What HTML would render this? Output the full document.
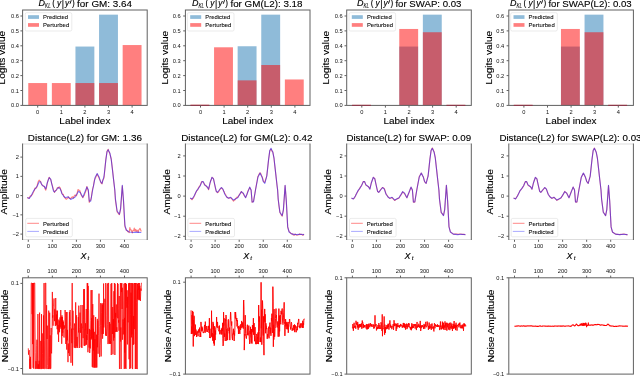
<!DOCTYPE html>
<html><head><meta charset="utf-8"><style>
html,body{margin:0;padding:0;background:#fff;overflow:hidden}
svg{display:block;font-family:"Liberation Sans", sans-serif;will-change:transform}
</style></head><body>
<svg width="640" height="376" viewBox="0 0 640 376">
<rect width="640" height="376" fill="#fff"/>
<g>
<rect x="28.26" y="83.05" width="18.88" height="22.35" fill="#ff0000" fill-opacity="0.5"/>
<rect x="51.86" y="83.05" width="18.88" height="22.35" fill="#ff0000" fill-opacity="0.5"/>
<rect x="75.46" y="46.55" width="18.88" height="58.86" fill="#1f77b4" fill-opacity="0.5"/>
<rect x="75.46" y="83.05" width="18.88" height="22.35" fill="#ff0000" fill-opacity="0.5"/>
<rect x="99.06" y="14.66" width="18.88" height="90.74" fill="#1f77b4" fill-opacity="0.5"/>
<rect x="99.06" y="83.05" width="18.88" height="22.35" fill="#ff0000" fill-opacity="0.5"/>
<rect x="122.66" y="45.05" width="18.88" height="60.35" fill="#ff0000" fill-opacity="0.5"/>
<rect x="22.60" y="10.00" width="124.60" height="95.40" fill="none" stroke="#606060" stroke-width="1"/>
<line x1="20.40" y1="105.40" x2="22.60" y2="105.40" stroke="#606060" stroke-width="1.0"/>
<text x="19.00" y="107.40" font-size="5.7" text-anchor="end" fill="#111" >0.0</text>
<line x1="20.40" y1="90.50" x2="22.60" y2="90.50" stroke="#606060" stroke-width="1.0"/>
<text x="19.00" y="92.50" font-size="5.7" text-anchor="end" fill="#111" >0.1</text>
<line x1="20.40" y1="75.60" x2="22.60" y2="75.60" stroke="#606060" stroke-width="1.0"/>
<text x="19.00" y="77.60" font-size="5.7" text-anchor="end" fill="#111" >0.2</text>
<line x1="20.40" y1="60.70" x2="22.60" y2="60.70" stroke="#606060" stroke-width="1.0"/>
<text x="19.00" y="62.70" font-size="5.7" text-anchor="end" fill="#111" >0.3</text>
<line x1="20.40" y1="45.80" x2="22.60" y2="45.80" stroke="#606060" stroke-width="1.0"/>
<text x="19.00" y="47.80" font-size="5.7" text-anchor="end" fill="#111" >0.4</text>
<line x1="20.40" y1="30.90" x2="22.60" y2="30.90" stroke="#606060" stroke-width="1.0"/>
<text x="19.00" y="32.90" font-size="5.7" text-anchor="end" fill="#111" >0.5</text>
<line x1="20.40" y1="16.00" x2="22.60" y2="16.00" stroke="#606060" stroke-width="1.0"/>
<text x="19.00" y="18.00" font-size="5.7" text-anchor="end" fill="#111" >0.6</text>
<line x1="37.70" y1="105.40" x2="37.70" y2="107.60" stroke="#606060" stroke-width="1.0"/>
<text x="37.70" y="113.80" font-size="5.7" text-anchor="middle" fill="#111" >0</text>
<line x1="61.30" y1="105.40" x2="61.30" y2="107.60" stroke="#606060" stroke-width="1.0"/>
<text x="61.30" y="113.80" font-size="5.7" text-anchor="middle" fill="#111" >1</text>
<line x1="84.90" y1="105.40" x2="84.90" y2="107.60" stroke="#606060" stroke-width="1.0"/>
<text x="84.90" y="113.80" font-size="5.7" text-anchor="middle" fill="#111" >2</text>
<line x1="108.50" y1="105.40" x2="108.50" y2="107.60" stroke="#606060" stroke-width="1.0"/>
<text x="108.50" y="113.80" font-size="5.7" text-anchor="middle" fill="#111" >3</text>
<line x1="132.10" y1="105.40" x2="132.10" y2="107.60" stroke="#606060" stroke-width="1.0"/>
<text x="132.10" y="113.80" font-size="5.7" text-anchor="middle" fill="#111" >4</text>
<text stroke="#000" stroke-width="0.12" x="84.90" y="124.00" font-size="8.7" text-anchor="middle" fill="#000" textLength="51.04" lengthAdjust="spacingAndGlyphs" >Label index</text>
<text stroke="#000" stroke-width="0.12" x="38.62" y="6.4" font-size="8.7" font-style="italic" textLength="6.5" lengthAdjust="spacingAndGlyphs">D</text>
<text stroke="#000" stroke-width="0.08" x="45.12" y="8.4" font-size="6.96" font-style="italic" textLength="5.6" lengthAdjust="spacingAndGlyphs">KL</text>
<text stroke="#000" stroke-width="0.12" x="52.22" y="5.6" font-size="8.26">(</text>
<text stroke="#000" stroke-width="0.12" x="57.02" y="5.9" font-size="8.26" font-style="italic">y</text>
<text stroke="#000" stroke-width="0.12" x="61.72" y="6.9" font-size="8.7">|</text>
<text stroke="#000" stroke-width="0.12" x="65.02" y="5.9" font-size="8.26" font-style="italic">y</text>
<line x1="71.12" y1="0.6" x2="70.12" y2="3.4" stroke="#111" stroke-width="1.0" stroke-linecap="round"/>
<text stroke="#000" stroke-width="0.12" x="72.02" y="5.6" font-size="8.26">)</text>
<text stroke="#000" stroke-width="0.12" x="74.38" y="6.60" font-size="8.7" text-anchor="start" fill="#000" textLength="57.61" lengthAdjust="spacingAndGlyphs" xml:space="preserve"> for GM: 3.64</text>
<text stroke="#000" stroke-width="0.12" transform="translate(5.30,57.70) rotate(-90)" font-size="8.7" text-anchor="middle" textLength="53.43" lengthAdjust="spacingAndGlyphs">Logits value</text>
<rect x="25.20" y="12.7" width="46.6" height="18.3" rx="1.5" fill="#fff" fill-opacity="0.8" stroke="#ddd" stroke-width="0.6"/>
<rect x="28.00" y="15.2" width="11" height="3.7" fill="#1f77b4" fill-opacity="0.5"/>
<rect x="28.00" y="23.1" width="11" height="3.7" fill="#ff0000" fill-opacity="0.5"/>
<text stroke="#000" stroke-width="0.08" x="43.10" y="19.40" font-size="6.1" text-anchor="start" fill="#111" textLength="24.97" lengthAdjust="spacingAndGlyphs" >Predicted</text>
<text stroke="#000" stroke-width="0.08" x="43.10" y="27.30" font-size="6.1" text-anchor="start" fill="#111" textLength="26.12" lengthAdjust="spacingAndGlyphs" >Perturbed</text>
</g>
<g>
<rect x="190.46" y="104.66" width="18.88" height="0.74" fill="#ff0000" fill-opacity="0.5"/>
<rect x="214.06" y="47.29" width="18.88" height="58.11" fill="#ff0000" fill-opacity="0.5"/>
<rect x="237.66" y="46.25" width="18.88" height="59.15" fill="#1f77b4" fill-opacity="0.5"/>
<rect x="237.66" y="80.37" width="18.88" height="25.03" fill="#ff0000" fill-opacity="0.5"/>
<rect x="261.26" y="14.66" width="18.88" height="90.74" fill="#1f77b4" fill-opacity="0.5"/>
<rect x="261.26" y="65.02" width="18.88" height="40.38" fill="#ff0000" fill-opacity="0.5"/>
<rect x="284.86" y="79.47" width="18.88" height="25.93" fill="#ff0000" fill-opacity="0.5"/>
<rect x="185.40" y="10.00" width="124.60" height="95.40" fill="none" stroke="#606060" stroke-width="1"/>
<rect x="190.46" y="104.9" width="18.88" height="1.1" fill="#8c3a4c"/>
<line x1="183.20" y1="105.40" x2="185.40" y2="105.40" stroke="#606060" stroke-width="1.0"/>
<text x="180.60" y="107.40" font-size="5.7" text-anchor="end" fill="#111" >0.0</text>
<line x1="183.20" y1="90.50" x2="185.40" y2="90.50" stroke="#606060" stroke-width="1.0"/>
<text x="180.60" y="92.50" font-size="5.7" text-anchor="end" fill="#111" >0.1</text>
<line x1="183.20" y1="75.60" x2="185.40" y2="75.60" stroke="#606060" stroke-width="1.0"/>
<text x="180.60" y="77.60" font-size="5.7" text-anchor="end" fill="#111" >0.2</text>
<line x1="183.20" y1="60.70" x2="185.40" y2="60.70" stroke="#606060" stroke-width="1.0"/>
<text x="180.60" y="62.70" font-size="5.7" text-anchor="end" fill="#111" >0.3</text>
<line x1="183.20" y1="45.80" x2="185.40" y2="45.80" stroke="#606060" stroke-width="1.0"/>
<text x="180.60" y="47.80" font-size="5.7" text-anchor="end" fill="#111" >0.4</text>
<line x1="183.20" y1="30.90" x2="185.40" y2="30.90" stroke="#606060" stroke-width="1.0"/>
<text x="180.60" y="32.90" font-size="5.7" text-anchor="end" fill="#111" >0.5</text>
<line x1="183.20" y1="16.00" x2="185.40" y2="16.00" stroke="#606060" stroke-width="1.0"/>
<text x="180.60" y="18.00" font-size="5.7" text-anchor="end" fill="#111" >0.6</text>
<line x1="200.50" y1="105.40" x2="200.50" y2="107.60" stroke="#606060" stroke-width="1.0"/>
<text x="200.50" y="113.80" font-size="5.7" text-anchor="middle" fill="#111" >0</text>
<line x1="224.10" y1="105.40" x2="224.10" y2="107.60" stroke="#606060" stroke-width="1.0"/>
<text x="224.10" y="113.80" font-size="5.7" text-anchor="middle" fill="#111" >1</text>
<line x1="247.70" y1="105.40" x2="247.70" y2="107.60" stroke="#606060" stroke-width="1.0"/>
<text x="247.70" y="113.80" font-size="5.7" text-anchor="middle" fill="#111" >2</text>
<line x1="271.30" y1="105.40" x2="271.30" y2="107.60" stroke="#606060" stroke-width="1.0"/>
<text x="271.30" y="113.80" font-size="5.7" text-anchor="middle" fill="#111" >3</text>
<line x1="294.90" y1="105.40" x2="294.90" y2="107.60" stroke="#606060" stroke-width="1.0"/>
<text x="294.90" y="113.80" font-size="5.7" text-anchor="middle" fill="#111" >4</text>
<text stroke="#000" stroke-width="0.12" x="247.70" y="124.00" font-size="8.7" text-anchor="middle" fill="#000" textLength="51.04" lengthAdjust="spacingAndGlyphs" >Label index</text>
<text stroke="#000" stroke-width="0.12" x="191.92" y="6.4" font-size="8.7" font-style="italic" textLength="6.5" lengthAdjust="spacingAndGlyphs">D</text>
<text stroke="#000" stroke-width="0.08" x="198.42" y="8.4" font-size="6.96" font-style="italic" textLength="5.6" lengthAdjust="spacingAndGlyphs">KL</text>
<text stroke="#000" stroke-width="0.12" x="205.52" y="5.6" font-size="8.26">(</text>
<text stroke="#000" stroke-width="0.12" x="210.32" y="5.9" font-size="8.26" font-style="italic">y</text>
<text stroke="#000" stroke-width="0.12" x="215.02" y="6.9" font-size="8.7">|</text>
<text stroke="#000" stroke-width="0.12" x="218.32" y="5.9" font-size="8.26" font-style="italic">y</text>
<line x1="224.42" y1="0.6" x2="223.42" y2="3.4" stroke="#111" stroke-width="1.0" stroke-linecap="round"/>
<text stroke="#000" stroke-width="0.12" x="225.32" y="5.6" font-size="8.26">)</text>
<text stroke="#000" stroke-width="0.12" x="227.68" y="6.60" font-size="8.7" text-anchor="start" fill="#000" textLength="74.90" lengthAdjust="spacingAndGlyphs" xml:space="preserve"> for GM(L2): 3.18</text>
<text stroke="#000" stroke-width="0.12" transform="translate(168.10,57.70) rotate(-90)" font-size="8.7" text-anchor="middle" textLength="53.43" lengthAdjust="spacingAndGlyphs">Logits value</text>
<rect x="187.40" y="12.7" width="46.6" height="18.3" rx="1.5" fill="#fff" fill-opacity="0.8" stroke="#ddd" stroke-width="0.6"/>
<rect x="190.20" y="15.2" width="11" height="3.7" fill="#1f77b4" fill-opacity="0.5"/>
<rect x="190.20" y="23.1" width="11" height="3.7" fill="#ff0000" fill-opacity="0.5"/>
<text stroke="#000" stroke-width="0.08" x="205.30" y="19.40" font-size="6.1" text-anchor="start" fill="#111" textLength="24.97" lengthAdjust="spacingAndGlyphs" >Predicted</text>
<text stroke="#000" stroke-width="0.08" x="205.30" y="27.30" font-size="6.1" text-anchor="start" fill="#111" textLength="26.12" lengthAdjust="spacingAndGlyphs" >Perturbed</text>
</g>
<g>
<rect x="352.06" y="104.80" width="18.88" height="0.60" fill="#ff0000" fill-opacity="0.5"/>
<rect x="399.26" y="46.55" width="18.88" height="58.86" fill="#1f77b4" fill-opacity="0.5"/>
<rect x="399.26" y="28.96" width="18.88" height="76.44" fill="#ff0000" fill-opacity="0.5"/>
<rect x="422.86" y="14.66" width="18.88" height="90.74" fill="#1f77b4" fill-opacity="0.5"/>
<rect x="422.86" y="32.24" width="18.88" height="73.16" fill="#ff0000" fill-opacity="0.5"/>
<rect x="446.46" y="104.80" width="18.88" height="0.60" fill="#ff0000" fill-opacity="0.5"/>
<rect x="346.70" y="10.00" width="124.60" height="95.40" fill="none" stroke="#606060" stroke-width="1"/>
<rect x="352.06" y="104.9" width="18.88" height="1.1" fill="#8c3a4c"/>
<rect x="446.46" y="104.9" width="18.88" height="1.1" fill="#8c3a4c"/>
<line x1="344.50" y1="105.40" x2="346.70" y2="105.40" stroke="#606060" stroke-width="1.0"/>
<text x="342.60" y="107.40" font-size="5.7" text-anchor="end" fill="#111" >0.0</text>
<line x1="344.50" y1="90.50" x2="346.70" y2="90.50" stroke="#606060" stroke-width="1.0"/>
<text x="342.60" y="92.50" font-size="5.7" text-anchor="end" fill="#111" >0.1</text>
<line x1="344.50" y1="75.60" x2="346.70" y2="75.60" stroke="#606060" stroke-width="1.0"/>
<text x="342.60" y="77.60" font-size="5.7" text-anchor="end" fill="#111" >0.2</text>
<line x1="344.50" y1="60.70" x2="346.70" y2="60.70" stroke="#606060" stroke-width="1.0"/>
<text x="342.60" y="62.70" font-size="5.7" text-anchor="end" fill="#111" >0.3</text>
<line x1="344.50" y1="45.80" x2="346.70" y2="45.80" stroke="#606060" stroke-width="1.0"/>
<text x="342.60" y="47.80" font-size="5.7" text-anchor="end" fill="#111" >0.4</text>
<line x1="344.50" y1="30.90" x2="346.70" y2="30.90" stroke="#606060" stroke-width="1.0"/>
<text x="342.60" y="32.90" font-size="5.7" text-anchor="end" fill="#111" >0.5</text>
<line x1="344.50" y1="16.00" x2="346.70" y2="16.00" stroke="#606060" stroke-width="1.0"/>
<text x="342.60" y="18.00" font-size="5.7" text-anchor="end" fill="#111" >0.6</text>
<line x1="361.80" y1="105.40" x2="361.80" y2="107.60" stroke="#606060" stroke-width="1.0"/>
<text x="361.80" y="113.80" font-size="5.7" text-anchor="middle" fill="#111" >0</text>
<line x1="385.40" y1="105.40" x2="385.40" y2="107.60" stroke="#606060" stroke-width="1.0"/>
<text x="385.40" y="113.80" font-size="5.7" text-anchor="middle" fill="#111" >1</text>
<line x1="409.00" y1="105.40" x2="409.00" y2="107.60" stroke="#606060" stroke-width="1.0"/>
<text x="409.00" y="113.80" font-size="5.7" text-anchor="middle" fill="#111" >2</text>
<line x1="432.60" y1="105.40" x2="432.60" y2="107.60" stroke="#606060" stroke-width="1.0"/>
<text x="432.60" y="113.80" font-size="5.7" text-anchor="middle" fill="#111" >3</text>
<line x1="456.20" y1="105.40" x2="456.20" y2="107.60" stroke="#606060" stroke-width="1.0"/>
<text x="456.20" y="113.80" font-size="5.7" text-anchor="middle" fill="#111" >4</text>
<text stroke="#000" stroke-width="0.12" x="409.00" y="124.00" font-size="8.7" text-anchor="middle" fill="#000" textLength="51.04" lengthAdjust="spacingAndGlyphs" >Label index</text>
<text stroke="#000" stroke-width="0.12" x="357.03" y="6.4" font-size="8.7" font-style="italic" textLength="6.5" lengthAdjust="spacingAndGlyphs">D</text>
<text stroke="#000" stroke-width="0.08" x="363.53" y="8.4" font-size="6.96" font-style="italic" textLength="5.6" lengthAdjust="spacingAndGlyphs">KL</text>
<text stroke="#000" stroke-width="0.12" x="370.63" y="5.6" font-size="8.26">(</text>
<text stroke="#000" stroke-width="0.12" x="375.43" y="5.9" font-size="8.26" font-style="italic">y</text>
<text stroke="#000" stroke-width="0.12" x="380.13" y="6.9" font-size="8.7">|</text>
<text stroke="#000" stroke-width="0.12" x="383.43" y="5.9" font-size="8.26" font-style="italic">y</text>
<line x1="389.53" y1="0.6" x2="388.53" y2="3.4" stroke="#111" stroke-width="1.0" stroke-linecap="round"/>
<text stroke="#000" stroke-width="0.12" x="390.43" y="5.6" font-size="8.26">)</text>
<text stroke="#000" stroke-width="0.12" x="392.79" y="6.60" font-size="8.7" text-anchor="start" fill="#000" textLength="68.59" lengthAdjust="spacingAndGlyphs" xml:space="preserve"> for SWAP: 0.03</text>
<text stroke="#000" stroke-width="0.12" transform="translate(329.40,57.70) rotate(-90)" font-size="8.7" text-anchor="middle" textLength="53.43" lengthAdjust="spacingAndGlyphs">Logits value</text>
<rect x="349.00" y="12.7" width="46.6" height="18.3" rx="1.5" fill="#fff" fill-opacity="0.8" stroke="#ddd" stroke-width="0.6"/>
<rect x="351.80" y="15.2" width="11" height="3.7" fill="#1f77b4" fill-opacity="0.5"/>
<rect x="351.80" y="23.1" width="11" height="3.7" fill="#ff0000" fill-opacity="0.5"/>
<text stroke="#000" stroke-width="0.08" x="366.90" y="19.40" font-size="6.1" text-anchor="start" fill="#111" textLength="24.97" lengthAdjust="spacingAndGlyphs" >Predicted</text>
<text stroke="#000" stroke-width="0.08" x="366.90" y="27.30" font-size="6.1" text-anchor="start" fill="#111" textLength="26.12" lengthAdjust="spacingAndGlyphs" >Perturbed</text>
</g>
<g>
<rect x="513.76" y="104.80" width="18.88" height="0.60" fill="#ff0000" fill-opacity="0.5"/>
<rect x="560.96" y="46.55" width="18.88" height="58.86" fill="#1f77b4" fill-opacity="0.5"/>
<rect x="560.96" y="28.96" width="18.88" height="76.44" fill="#ff0000" fill-opacity="0.5"/>
<rect x="584.56" y="14.66" width="18.88" height="90.74" fill="#1f77b4" fill-opacity="0.5"/>
<rect x="584.56" y="32.24" width="18.88" height="73.16" fill="#ff0000" fill-opacity="0.5"/>
<rect x="608.16" y="104.80" width="18.88" height="0.60" fill="#ff0000" fill-opacity="0.5"/>
<rect x="508.80" y="10.00" width="124.60" height="95.40" fill="none" stroke="#606060" stroke-width="1"/>
<rect x="513.76" y="104.9" width="18.88" height="1.1" fill="#8c3a4c"/>
<rect x="608.16" y="104.9" width="18.88" height="1.1" fill="#8c3a4c"/>
<line x1="506.60" y1="105.40" x2="508.80" y2="105.40" stroke="#606060" stroke-width="1.0"/>
<text x="504.20" y="107.40" font-size="5.7" text-anchor="end" fill="#111" >0.0</text>
<line x1="506.60" y1="90.50" x2="508.80" y2="90.50" stroke="#606060" stroke-width="1.0"/>
<text x="504.20" y="92.50" font-size="5.7" text-anchor="end" fill="#111" >0.1</text>
<line x1="506.60" y1="75.60" x2="508.80" y2="75.60" stroke="#606060" stroke-width="1.0"/>
<text x="504.20" y="77.60" font-size="5.7" text-anchor="end" fill="#111" >0.2</text>
<line x1="506.60" y1="60.70" x2="508.80" y2="60.70" stroke="#606060" stroke-width="1.0"/>
<text x="504.20" y="62.70" font-size="5.7" text-anchor="end" fill="#111" >0.3</text>
<line x1="506.60" y1="45.80" x2="508.80" y2="45.80" stroke="#606060" stroke-width="1.0"/>
<text x="504.20" y="47.80" font-size="5.7" text-anchor="end" fill="#111" >0.4</text>
<line x1="506.60" y1="30.90" x2="508.80" y2="30.90" stroke="#606060" stroke-width="1.0"/>
<text x="504.20" y="32.90" font-size="5.7" text-anchor="end" fill="#111" >0.5</text>
<line x1="506.60" y1="16.00" x2="508.80" y2="16.00" stroke="#606060" stroke-width="1.0"/>
<text x="504.20" y="18.00" font-size="5.7" text-anchor="end" fill="#111" >0.6</text>
<line x1="523.90" y1="105.40" x2="523.90" y2="107.60" stroke="#606060" stroke-width="1.0"/>
<text x="523.90" y="113.80" font-size="5.7" text-anchor="middle" fill="#111" >0</text>
<line x1="547.50" y1="105.40" x2="547.50" y2="107.60" stroke="#606060" stroke-width="1.0"/>
<text x="547.50" y="113.80" font-size="5.7" text-anchor="middle" fill="#111" >1</text>
<line x1="571.10" y1="105.40" x2="571.10" y2="107.60" stroke="#606060" stroke-width="1.0"/>
<text x="571.10" y="113.80" font-size="5.7" text-anchor="middle" fill="#111" >2</text>
<line x1="594.70" y1="105.40" x2="594.70" y2="107.60" stroke="#606060" stroke-width="1.0"/>
<text x="594.70" y="113.80" font-size="5.7" text-anchor="middle" fill="#111" >3</text>
<line x1="618.30" y1="105.40" x2="618.30" y2="107.60" stroke="#606060" stroke-width="1.0"/>
<text x="618.30" y="113.80" font-size="5.7" text-anchor="middle" fill="#111" >4</text>
<text stroke="#000" stroke-width="0.12" x="571.10" y="124.00" font-size="8.7" text-anchor="middle" fill="#000" textLength="51.04" lengthAdjust="spacingAndGlyphs" >Label index</text>
<text stroke="#000" stroke-width="0.12" x="510.01" y="6.4" font-size="8.7" font-style="italic" textLength="6.5" lengthAdjust="spacingAndGlyphs">D</text>
<text stroke="#000" stroke-width="0.08" x="516.51" y="8.4" font-size="6.96" font-style="italic" textLength="5.6" lengthAdjust="spacingAndGlyphs">KL</text>
<text stroke="#000" stroke-width="0.12" x="523.61" y="5.6" font-size="8.26">(</text>
<text stroke="#000" stroke-width="0.12" x="528.41" y="5.9" font-size="8.26" font-style="italic">y</text>
<text stroke="#000" stroke-width="0.12" x="533.11" y="6.9" font-size="8.7">|</text>
<text stroke="#000" stroke-width="0.12" x="536.41" y="5.9" font-size="8.26" font-style="italic">y</text>
<line x1="542.51" y1="0.6" x2="541.51" y2="3.4" stroke="#111" stroke-width="1.0" stroke-linecap="round"/>
<text stroke="#000" stroke-width="0.12" x="543.41" y="5.6" font-size="8.26">)</text>
<text stroke="#000" stroke-width="0.12" x="545.77" y="6.60" font-size="8.7" text-anchor="start" fill="#000" textLength="85.92" lengthAdjust="spacingAndGlyphs" xml:space="preserve"> for SWAP(L2): 0.03</text>
<text stroke="#000" stroke-width="0.12" transform="translate(491.50,57.70) rotate(-90)" font-size="8.7" text-anchor="middle" textLength="53.43" lengthAdjust="spacingAndGlyphs">Logits value</text>
<rect x="510.70" y="12.7" width="46.6" height="18.3" rx="1.5" fill="#fff" fill-opacity="0.8" stroke="#ddd" stroke-width="0.6"/>
<rect x="513.50" y="15.2" width="11" height="3.7" fill="#1f77b4" fill-opacity="0.5"/>
<rect x="513.50" y="23.1" width="11" height="3.7" fill="#ff0000" fill-opacity="0.5"/>
<text stroke="#000" stroke-width="0.08" x="528.60" y="19.40" font-size="6.1" text-anchor="start" fill="#111" textLength="24.97" lengthAdjust="spacingAndGlyphs" >Predicted</text>
<text stroke="#000" stroke-width="0.08" x="528.60" y="27.30" font-size="6.1" text-anchor="start" fill="#111" textLength="26.12" lengthAdjust="spacingAndGlyphs" >Perturbed</text>
</g>
<polyline points="27.40,197.30 28.03,198.10 28.67,198.08 29.30,198.11 29.97,196.48 30.63,195.72 31.30,195.99 31.90,194.93 32.50,194.32 33.10,192.81 33.70,191.53 34.30,190.59 34.90,188.17 35.50,188.55 36.13,188.03 36.77,187.35 37.40,184.75 38.00,182.34 38.60,181.07 39.20,180.13 39.85,181.02 40.50,181.26 41.15,183.46 41.80,184.43 42.60,185.40 43.40,186.26 44.40,186.24 45.10,188.97 45.80,190.10 46.50,187.70 47.20,183.57 47.87,180.92 48.53,178.94 49.20,177.22 49.95,178.62 50.70,179.42 51.80,183.87 52.65,186.67 53.50,190.13 54.60,192.40 55.23,190.81 55.87,190.45 56.50,190.09 57.17,187.91 57.83,187.57 58.50,188.11 59.35,186.88 60.20,187.88 60.80,189.82 61.40,191.05 62.00,193.53 62.63,194.47 63.27,194.22 63.90,196.35 64.75,197.58 65.60,198.80 66.37,199.25 67.13,198.49 67.90,197.70 68.60,196.90 69.30,198.30 70.00,198.37 70.70,198.82 71.40,197.63 72.10,197.03 72.80,196.88 73.50,198.18 74.20,196.02 74.90,195.06 75.52,195.14 76.13,195.80 76.75,195.08 77.37,192.16 77.98,189.50 78.60,189.92 79.20,190.33 79.80,190.44 80.40,192.47 81.20,195.00 82.00,196.32 82.80,197.79 83.48,196.22 84.17,195.57 84.85,193.68 85.53,191.78 86.22,189.98 86.90,186.44 87.60,189.07 88.30,190.91 89.30,202.45 90.00,200.31 90.70,200.15 91.37,197.47 92.03,192.10 92.70,188.71 93.50,185.93 94.30,180.68 95.10,178.37 95.80,177.18 96.50,175.34 97.20,174.10 97.90,175.78 98.60,176.87 99.30,178.93 99.90,179.85 100.50,181.42 101.25,183.23 102.00,183.82 102.67,180.59 103.33,179.27 104.00,177.99 104.90,169.00 105.80,159.62 106.40,155.53 107.00,151.34 108.20,149.28 108.80,151.92 109.40,151.96 110.00,154.40 111.20,158.75 112.40,168.56 113.60,179.83 114.80,190.67 115.40,199.84 116.25,205.84 117.10,211.77 117.87,212.68 118.63,214.02 119.40,214.63 120.60,208.97 121.45,197.69 122.30,185.80 122.90,193.69 123.50,201.22 124.20,214.95 124.90,226.75 125.60,228.17 126.30,230.05 127.02,230.51 127.75,231.78 128.48,231.68 129.20,232.67 129.83,227.45 130.46,230.00 131.09,229.81 131.71,231.28 132.34,232.93 132.97,230.41 133.60,230.66 134.26,228.02 134.92,231.29 135.58,229.33 136.24,231.48 136.90,230.07 137.53,230.68 138.16,232.50 138.79,229.97 139.41,229.11 140.04,228.32 140.67,230.10 141.30,231.49" fill="none" stroke="#ff0000" stroke-opacity="0.5" stroke-width="1.1" stroke-linejoin="round"/>
<polyline points="27.40,197.52 29.30,198.38 31.30,195.50 33.70,190.62 35.50,188.42 37.40,185.74 39.20,181.71 40.50,181.71 41.80,184.87 43.40,185.93 44.40,186.60 45.80,188.90 47.20,183.05 49.20,177.60 50.70,179.03 51.80,184.01 53.50,191.10 54.60,191.96 56.50,189.76 58.50,187.36 60.20,188.90 62.00,193.78 63.90,196.46 65.60,197.71 67.90,196.75 70.70,199.43 74.90,197.23 78.60,191.29 80.40,192.73 82.80,197.23 86.90,186.98 88.30,189.66 89.30,201.25 90.70,201.25 92.70,189.76 95.10,177.60 97.20,173.57 99.30,177.60 100.50,181.62 102.00,183.34 104.00,176.45 105.80,160.45 107.00,151.83 108.20,149.82 110.00,153.56 111.20,159.30 112.40,169.55 113.60,179.89 114.80,189.76 115.40,198.57 117.10,211.02 119.40,214.28 120.60,208.53 122.30,185.35 123.50,200.20 124.90,225.10 126.30,229.98 129.20,231.99 133.60,232.47 136.90,232.09 141.30,232.47" fill="none" stroke="#0000ff" stroke-opacity="0.5" stroke-width="1.1" stroke-linejoin="round"/>
<line x1="22.60" y1="144.00" x2="147.20" y2="144.00" stroke="#ddd" stroke-width="1.0"/>
<line x1="22.60" y1="239.50" x2="147.20" y2="239.50" stroke="#ddd" stroke-width="1.0"/>
<line x1="22.60" y1="143.50" x2="22.60" y2="240.00" stroke="#606060" stroke-width="1.0"/>
<line x1="147.20" y1="143.50" x2="147.20" y2="240.00" stroke="#606060" stroke-width="1.0"/>
<line x1="20.40" y1="234.10" x2="22.60" y2="234.10" stroke="#606060" stroke-width="1.0"/>
<text x="19.00" y="236.10" font-size="5.7" text-anchor="end" fill="#111" >−2</text>
<line x1="20.40" y1="214.85" x2="22.60" y2="214.85" stroke="#606060" stroke-width="1.0"/>
<text x="19.00" y="216.85" font-size="5.7" text-anchor="end" fill="#111" >−1</text>
<line x1="20.40" y1="195.60" x2="22.60" y2="195.60" stroke="#606060" stroke-width="1.0"/>
<text x="19.00" y="197.60" font-size="5.7" text-anchor="end" fill="#111" >0</text>
<line x1="20.40" y1="176.35" x2="22.60" y2="176.35" stroke="#606060" stroke-width="1.0"/>
<text x="19.00" y="178.35" font-size="5.7" text-anchor="end" fill="#111" >1</text>
<line x1="20.40" y1="157.10" x2="22.60" y2="157.10" stroke="#606060" stroke-width="1.0"/>
<text x="19.00" y="159.10" font-size="5.7" text-anchor="end" fill="#111" >2</text>
<line x1="28.30" y1="239.80" x2="28.30" y2="241.80" stroke="#606060" stroke-width="1.0"/>
<text x="28.30" y="248.00" font-size="5.7" text-anchor="middle" fill="#111" >0</text>
<line x1="52.35" y1="239.80" x2="52.35" y2="241.80" stroke="#606060" stroke-width="1.0"/>
<text x="52.35" y="248.00" font-size="5.7" text-anchor="middle" fill="#111" >100</text>
<line x1="76.40" y1="239.80" x2="76.40" y2="241.80" stroke="#606060" stroke-width="1.0"/>
<text x="76.40" y="248.00" font-size="5.7" text-anchor="middle" fill="#111" >200</text>
<line x1="100.45" y1="239.80" x2="100.45" y2="241.80" stroke="#606060" stroke-width="1.0"/>
<text x="100.45" y="248.00" font-size="5.7" text-anchor="middle" fill="#111" >300</text>
<line x1="124.50" y1="239.80" x2="124.50" y2="241.80" stroke="#606060" stroke-width="1.0"/>
<text x="124.50" y="248.00" font-size="5.7" text-anchor="middle" fill="#111" >400</text>
<text stroke="#000" stroke-width="0.12" x="83.40" y="258.8" font-size="9.0" font-style="italic" text-anchor="middle">X</text>
<text stroke="#000" stroke-width="0.08" x="88.40" y="260.0" font-size="6.09" font-style="italic" text-anchor="middle">t</text>
<text stroke="#000" stroke-width="0.12" x="84.90" y="140.70" font-size="8.7" text-anchor="middle" fill="#000" textLength="114.04" lengthAdjust="spacingAndGlyphs" >Distance(L2) for GM: 1.36</text>
<text stroke="#000" stroke-width="0.12" transform="translate(7.20,191.75) rotate(-90)" font-size="8.7" text-anchor="middle" textLength="45.46" lengthAdjust="spacingAndGlyphs">Amplitude</text>
<rect x="25.70" y="218.4" width="46.6" height="18.4" rx="1.5" fill="#fff" fill-opacity="0.8" stroke="#ddd" stroke-width="0.6"/>
<line x1="27.30" y1="223.30" x2="39.00" y2="223.30" stroke="#ff7a7a" stroke-width="0.9"/>
<line x1="27.30" y1="231.40" x2="39.00" y2="231.40" stroke="#a0a0ff" stroke-width="0.9"/>
<text stroke="#000" stroke-width="0.08" x="43.00" y="225.70" font-size="6.1" text-anchor="start" fill="#111" textLength="26.12" lengthAdjust="spacingAndGlyphs" >Perturbed</text>
<text stroke="#000" stroke-width="0.08" x="43.00" y="234.10" font-size="6.1" text-anchor="start" fill="#111" textLength="24.97" lengthAdjust="spacingAndGlyphs" >Predicted</text>
<polyline points="190.20,198.15 190.83,198.40 191.47,199.24 192.10,199.69 192.77,198.31 193.43,198.15 194.10,196.29 194.70,195.22 195.30,193.65 195.90,192.34 196.50,191.25 197.10,190.42 197.70,189.76 198.30,188.30 198.93,186.96 199.57,186.52 200.20,185.34 200.80,183.76 201.40,182.10 202.00,181.51 202.65,181.80 203.30,182.24 203.95,183.30 204.60,184.93 205.40,185.07 206.20,186.04 207.20,187.28 207.90,187.94 208.60,189.67 209.30,186.74 210.00,183.35 210.67,180.62 211.33,179.40 212.00,177.39 212.75,177.89 213.50,178.85 214.60,184.17 215.45,188.33 216.30,191.42 217.40,192.71 218.03,192.30 218.67,191.73 219.30,190.52 219.97,189.22 220.63,188.72 221.30,187.77 222.15,188.51 223.00,189.72 223.60,191.08 224.20,191.86 224.80,193.68 225.43,194.17 226.07,195.78 226.70,196.94 227.55,197.40 228.40,198.15 229.17,198.17 229.93,197.78 230.70,197.85 231.40,198.31 232.10,199.25 232.80,200.25 233.50,201.17 234.20,200.13 234.90,199.89 235.60,198.63 236.30,197.99 237.00,197.15 237.70,197.56 238.32,196.19 238.93,195.38 239.55,194.42 240.17,193.49 240.78,192.32 241.40,191.49 242.00,192.66 242.60,192.95 243.20,193.50 244.00,195.26 244.80,196.52 245.60,197.53 246.28,195.66 246.97,194.40 247.65,191.97 248.33,190.17 249.02,188.94 249.70,187.41 250.40,188.69 251.10,190.30 252.10,202.30 252.80,201.76 253.50,201.31 254.17,197.36 254.83,193.94 255.50,189.77 256.30,185.31 257.10,180.99 257.90,176.44 258.60,175.34 259.30,173.75 260.00,172.78 260.70,173.48 261.40,175.40 262.10,176.78 262.70,178.41 263.30,181.16 264.05,182.10 264.80,182.34 265.47,180.02 266.13,178.07 266.80,175.68 267.70,167.77 268.60,159.68 269.20,155.30 269.80,150.75 271.00,148.98 271.60,150.24 272.20,151.44 272.80,151.80 274.00,158.27 274.60,164.05 275.20,169.10 276.40,179.65 277.00,185.50 277.60,189.78 278.20,199.23 279.05,206.57 279.90,212.39 280.67,213.69 281.43,215.34 282.20,216.08 283.40,210.09 284.25,198.11 285.10,185.45 285.70,193.15 286.30,201.00 287.00,214.25 287.70,227.10 288.40,229.50 289.10,231.67 289.83,232.20 290.55,233.17 291.27,233.68 292.00,233.87 292.63,233.74 293.26,234.92 293.89,235.12 294.51,235.09 295.14,233.97 295.77,234.46 296.40,234.72 297.06,235.18 297.72,234.99 298.38,234.67 299.04,234.65 299.70,233.74 300.33,234.34 300.96,234.48 301.59,234.22 302.21,234.80 302.84,235.34 303.47,234.57 304.10,234.38" fill="none" stroke="#ff0000" stroke-opacity="0.5" stroke-width="1.1" stroke-linejoin="round"/>
<polyline points="190.20,198.10 192.10,199.00 194.10,196.00 196.50,190.90 198.30,188.60 200.20,185.80 202.00,181.60 203.30,181.60 204.60,184.90 206.20,186.00 207.20,186.70 208.60,189.10 210.00,183.00 212.00,177.30 213.50,178.80 214.60,184.00 216.30,191.40 217.40,192.30 219.30,190.00 221.30,187.50 223.00,189.10 224.80,194.20 226.70,197.00 228.40,198.30 230.70,197.30 233.50,200.10 237.70,197.80 241.40,191.60 243.20,193.10 245.60,197.80 249.70,187.10 251.10,189.90 252.10,202.00 253.50,202.00 255.50,190.00 257.90,177.30 260.00,173.10 262.10,177.30 263.30,181.50 264.80,183.30 266.80,176.10 268.60,159.40 269.80,150.40 271.00,148.30 272.80,152.20 274.00,158.20 275.20,168.90 276.40,179.70 277.60,190.00 278.20,199.20 279.90,212.20 282.20,215.60 283.40,209.60 285.10,185.40 286.30,200.90 287.70,226.90 289.10,232.00 292.00,234.10 296.40,234.60 299.70,234.20 304.10,234.60" fill="none" stroke="#0000ff" stroke-opacity="0.5" stroke-width="1.1" stroke-linejoin="round"/>
<line x1="185.40" y1="144.00" x2="310.00" y2="144.00" stroke="#ddd" stroke-width="1.0"/>
<line x1="185.40" y1="239.50" x2="310.00" y2="239.50" stroke="#ddd" stroke-width="1.0"/>
<line x1="185.40" y1="143.50" x2="185.40" y2="240.00" stroke="#606060" stroke-width="1.0"/>
<line x1="310.00" y1="143.50" x2="310.00" y2="240.00" stroke="#606060" stroke-width="1.0"/>
<line x1="183.20" y1="236.30" x2="185.40" y2="236.30" stroke="#606060" stroke-width="1.0"/>
<text x="180.60" y="238.30" font-size="5.7" text-anchor="end" fill="#111" >−2</text>
<line x1="183.20" y1="216.20" x2="185.40" y2="216.20" stroke="#606060" stroke-width="1.0"/>
<text x="180.60" y="218.20" font-size="5.7" text-anchor="end" fill="#111" >−1</text>
<line x1="183.20" y1="196.10" x2="185.40" y2="196.10" stroke="#606060" stroke-width="1.0"/>
<text x="180.60" y="198.10" font-size="5.7" text-anchor="end" fill="#111" >0</text>
<line x1="183.20" y1="176.00" x2="185.40" y2="176.00" stroke="#606060" stroke-width="1.0"/>
<text x="180.60" y="178.00" font-size="5.7" text-anchor="end" fill="#111" >1</text>
<line x1="183.20" y1="155.90" x2="185.40" y2="155.90" stroke="#606060" stroke-width="1.0"/>
<text x="180.60" y="157.90" font-size="5.7" text-anchor="end" fill="#111" >2</text>
<line x1="191.10" y1="239.80" x2="191.10" y2="241.80" stroke="#606060" stroke-width="1.0"/>
<text x="191.10" y="248.00" font-size="5.7" text-anchor="middle" fill="#111" >0</text>
<line x1="215.15" y1="239.80" x2="215.15" y2="241.80" stroke="#606060" stroke-width="1.0"/>
<text x="215.15" y="248.00" font-size="5.7" text-anchor="middle" fill="#111" >100</text>
<line x1="239.20" y1="239.80" x2="239.20" y2="241.80" stroke="#606060" stroke-width="1.0"/>
<text x="239.20" y="248.00" font-size="5.7" text-anchor="middle" fill="#111" >200</text>
<line x1="263.25" y1="239.80" x2="263.25" y2="241.80" stroke="#606060" stroke-width="1.0"/>
<text x="263.25" y="248.00" font-size="5.7" text-anchor="middle" fill="#111" >300</text>
<line x1="287.30" y1="239.80" x2="287.30" y2="241.80" stroke="#606060" stroke-width="1.0"/>
<text x="287.30" y="248.00" font-size="5.7" text-anchor="middle" fill="#111" >400</text>
<text stroke="#000" stroke-width="0.12" x="246.20" y="258.8" font-size="9.0" font-style="italic" text-anchor="middle">X</text>
<text stroke="#000" stroke-width="0.08" x="251.20" y="260.0" font-size="6.09" font-style="italic" text-anchor="middle">t</text>
<text stroke="#000" stroke-width="0.12" x="246.85" y="140.70" font-size="8.7" text-anchor="middle" fill="#000" textLength="131.35" lengthAdjust="spacingAndGlyphs" >Distance(L2) for GM(L2): 0.42</text>
<text stroke="#000" stroke-width="0.12" transform="translate(170.00,191.75) rotate(-90)" font-size="8.7" text-anchor="middle" textLength="45.46" lengthAdjust="spacingAndGlyphs">Amplitude</text>
<rect x="187.90" y="218.4" width="46.6" height="18.4" rx="1.5" fill="#fff" fill-opacity="0.8" stroke="#ddd" stroke-width="0.6"/>
<line x1="189.50" y1="223.30" x2="201.20" y2="223.30" stroke="#ff7a7a" stroke-width="0.9"/>
<line x1="189.50" y1="231.40" x2="201.20" y2="231.40" stroke="#a0a0ff" stroke-width="0.9"/>
<text stroke="#000" stroke-width="0.08" x="205.20" y="225.70" font-size="6.1" text-anchor="start" fill="#111" textLength="26.12" lengthAdjust="spacingAndGlyphs" >Perturbed</text>
<text stroke="#000" stroke-width="0.08" x="205.20" y="234.10" font-size="6.1" text-anchor="start" fill="#111" textLength="24.97" lengthAdjust="spacingAndGlyphs" >Predicted</text>
<polyline points="351.50,198.15 352.13,198.46 352.77,198.67 353.40,198.81 354.07,198.26 354.73,197.34 355.40,195.99 356.00,194.49 356.60,193.60 357.20,192.44 357.80,191.38 358.40,190.56 359.00,189.47 359.60,188.71 360.23,187.35 360.87,186.41 361.50,185.60 362.10,184.37 362.70,182.86 363.30,181.49 363.95,181.62 364.60,181.67 365.25,183.41 365.90,185.03 366.70,185.47 367.50,186.15 368.50,186.80 369.20,187.82 369.90,188.94 370.60,185.95 371.30,182.92 371.97,181.08 372.63,179.19 373.30,177.32 374.05,178.04 374.80,178.57 375.90,183.94 376.75,187.85 377.60,191.56 378.70,192.37 379.33,191.65 379.97,190.67 380.60,189.61 381.27,188.94 381.93,188.04 382.60,187.45 383.45,188.08 384.30,188.51 384.90,190.26 385.50,192.45 386.10,194.11 386.73,194.84 387.37,195.76 388.00,196.90 388.85,197.68 389.70,198.35 390.47,198.26 391.23,197.93 392.00,197.47 392.70,198.21 393.40,199.12 394.10,199.82 394.80,200.53 395.50,199.79 396.20,199.35 396.90,199.09 397.60,198.60 398.30,198.39 399.00,198.03 399.62,197.06 400.23,195.87 400.85,195.23 401.47,194.20 402.08,192.92 402.70,191.79 403.30,192.67 403.90,192.88 404.50,193.42 405.30,195.03 406.10,196.45 406.90,197.73 407.58,196.01 408.27,194.29 408.95,192.68 409.63,190.94 410.32,189.05 411.00,187.35 411.70,188.75 412.40,190.08 413.40,202.12 414.10,202.03 414.80,202.14 415.47,197.90 416.13,193.83 416.80,189.90 417.60,185.45 418.40,181.27 419.20,176.79 419.90,175.47 420.60,174.34 421.30,173.11 422.00,174.49 422.70,175.86 423.40,177.03 424.00,179.56 424.60,181.68 425.35,182.70 426.10,183.33 426.77,180.88 427.43,178.17 428.10,176.04 429.00,167.88 429.90,159.14 430.50,154.74 431.10,150.41 432.30,148.00 432.90,149.10 433.50,150.41 434.10,151.80 435.30,157.71 436.50,168.61 437.70,179.57 438.90,190.03 439.50,199.34 440.35,206.05 441.20,212.61 441.97,213.35 442.73,214.39 443.50,215.37 444.70,209.27 445.55,197.29 446.40,185.27 447.00,193.16 447.60,200.63 448.30,213.52 449.00,226.67 449.70,229.28 450.40,231.84 451.12,232.42 451.85,232.85 452.57,233.58 453.30,234.16 453.93,234.19 454.56,234.14 455.19,234.22 455.81,233.85 456.44,233.97 457.07,234.24 457.70,234.16 458.36,234.29 459.02,234.33 459.68,234.05 460.34,234.05 461.00,234.01 461.63,234.22 462.26,234.40 462.89,234.42 463.51,234.31 464.14,234.39 464.77,234.47 465.40,234.69" fill="none" stroke="#ff0000" stroke-opacity="0.5" stroke-width="1.1" stroke-linejoin="round"/>
<polyline points="351.50,198.10 353.40,199.00 355.40,196.00 357.80,190.90 359.60,188.60 361.50,185.80 363.30,181.60 364.60,181.60 365.90,184.90 367.50,186.00 368.50,186.70 369.90,189.10 371.30,183.00 373.30,177.30 374.80,178.80 375.90,184.00 377.60,191.40 378.70,192.30 380.60,190.00 382.60,187.50 384.30,189.10 386.10,194.20 388.00,197.00 389.70,198.30 392.00,197.30 394.80,200.10 399.00,197.80 402.70,191.60 404.50,193.10 406.90,197.80 411.00,187.10 412.40,189.90 413.40,202.00 414.80,202.00 416.80,190.00 419.20,177.30 421.30,173.10 423.40,177.30 424.60,181.50 426.10,183.30 428.10,176.10 429.90,159.40 431.10,150.40 432.30,148.30 434.10,152.20 435.30,158.20 436.50,168.90 437.70,179.70 438.90,190.00 439.50,199.20 441.20,212.20 443.50,215.60 444.70,209.60 446.40,185.40 447.60,200.90 449.00,226.90 450.40,232.00 453.30,234.10 457.70,234.60 461.00,234.20 465.40,234.60" fill="none" stroke="#0000ff" stroke-opacity="0.5" stroke-width="1.1" stroke-linejoin="round"/>
<line x1="346.70" y1="144.00" x2="471.30" y2="144.00" stroke="#ddd" stroke-width="1.0"/>
<line x1="346.70" y1="239.50" x2="471.30" y2="239.50" stroke="#ddd" stroke-width="1.0"/>
<line x1="346.70" y1="143.50" x2="346.70" y2="240.00" stroke="#606060" stroke-width="1.0"/>
<line x1="471.30" y1="143.50" x2="471.30" y2="240.00" stroke="#606060" stroke-width="1.0"/>
<line x1="344.50" y1="236.30" x2="346.70" y2="236.30" stroke="#606060" stroke-width="1.0"/>
<text x="342.60" y="238.30" font-size="5.7" text-anchor="end" fill="#111" >−2</text>
<line x1="344.50" y1="216.20" x2="346.70" y2="216.20" stroke="#606060" stroke-width="1.0"/>
<text x="342.60" y="218.20" font-size="5.7" text-anchor="end" fill="#111" >−1</text>
<line x1="344.50" y1="196.10" x2="346.70" y2="196.10" stroke="#606060" stroke-width="1.0"/>
<text x="342.60" y="198.10" font-size="5.7" text-anchor="end" fill="#111" >0</text>
<line x1="344.50" y1="176.00" x2="346.70" y2="176.00" stroke="#606060" stroke-width="1.0"/>
<text x="342.60" y="178.00" font-size="5.7" text-anchor="end" fill="#111" >1</text>
<line x1="344.50" y1="155.90" x2="346.70" y2="155.90" stroke="#606060" stroke-width="1.0"/>
<text x="342.60" y="157.90" font-size="5.7" text-anchor="end" fill="#111" >2</text>
<line x1="352.40" y1="239.80" x2="352.40" y2="241.80" stroke="#606060" stroke-width="1.0"/>
<text x="352.40" y="248.00" font-size="5.7" text-anchor="middle" fill="#111" >0</text>
<line x1="376.45" y1="239.80" x2="376.45" y2="241.80" stroke="#606060" stroke-width="1.0"/>
<text x="376.45" y="248.00" font-size="5.7" text-anchor="middle" fill="#111" >100</text>
<line x1="400.50" y1="239.80" x2="400.50" y2="241.80" stroke="#606060" stroke-width="1.0"/>
<text x="400.50" y="248.00" font-size="5.7" text-anchor="middle" fill="#111" >200</text>
<line x1="424.55" y1="239.80" x2="424.55" y2="241.80" stroke="#606060" stroke-width="1.0"/>
<text x="424.55" y="248.00" font-size="5.7" text-anchor="middle" fill="#111" >300</text>
<line x1="448.60" y1="239.80" x2="448.60" y2="241.80" stroke="#606060" stroke-width="1.0"/>
<text x="448.60" y="248.00" font-size="5.7" text-anchor="middle" fill="#111" >400</text>
<text stroke="#000" stroke-width="0.12" x="407.50" y="258.8" font-size="9.0" font-style="italic" text-anchor="middle">X</text>
<text stroke="#000" stroke-width="0.08" x="412.50" y="260.0" font-size="6.09" font-style="italic" text-anchor="middle">t</text>
<text stroke="#000" stroke-width="0.12" x="408.80" y="140.70" font-size="8.7" text-anchor="middle" fill="#000" textLength="124.73" lengthAdjust="spacingAndGlyphs" >Distance(L2) for SWAP: 0.09</text>
<text stroke="#000" stroke-width="0.12" transform="translate(331.30,191.75) rotate(-90)" font-size="8.7" text-anchor="middle" textLength="45.46" lengthAdjust="spacingAndGlyphs">Amplitude</text>
<rect x="349.50" y="218.4" width="46.6" height="18.4" rx="1.5" fill="#fff" fill-opacity="0.8" stroke="#ddd" stroke-width="0.6"/>
<line x1="351.10" y1="223.30" x2="362.80" y2="223.30" stroke="#ff7a7a" stroke-width="0.9"/>
<line x1="351.10" y1="231.40" x2="362.80" y2="231.40" stroke="#a0a0ff" stroke-width="0.9"/>
<text stroke="#000" stroke-width="0.08" x="366.80" y="225.70" font-size="6.1" text-anchor="start" fill="#111" textLength="26.12" lengthAdjust="spacingAndGlyphs" >Perturbed</text>
<text stroke="#000" stroke-width="0.08" x="366.80" y="234.10" font-size="6.1" text-anchor="start" fill="#111" textLength="24.97" lengthAdjust="spacingAndGlyphs" >Predicted</text>
<polyline points="513.60,198.13 514.23,198.34 514.87,198.52 515.50,198.85 516.17,197.84 516.83,196.78 517.50,195.86 518.10,194.59 518.70,193.38 519.30,192.19 519.90,190.86 520.80,189.97 521.70,188.70 522.33,187.84 522.97,186.85 523.60,185.99 524.20,184.26 524.80,182.84 525.40,181.53 526.05,181.62 526.70,181.86 527.35,183.44 528.00,185.15 528.80,185.68 529.60,186.24 530.60,186.90 531.30,188.00 532.00,189.21 532.70,186.01 533.40,183.10 534.07,181.05 534.73,179.20 535.40,177.52 536.15,178.16 536.90,178.87 538.00,184.16 538.85,187.80 539.70,191.38 540.80,192.31 541.43,191.60 542.07,190.88 542.70,189.99 543.37,189.34 544.03,188.61 544.70,187.67 545.55,188.43 546.40,189.13 547.30,191.82 548.20,194.23 548.83,195.22 549.47,196.07 550.10,196.93 550.95,197.68 551.80,198.46 552.57,198.06 553.33,197.62 554.10,197.38 554.80,198.04 555.50,198.76 556.20,199.59 556.90,200.34 557.60,199.80 558.30,199.63 559.00,199.13 559.70,198.75 560.40,198.23 561.10,197.82 561.72,196.60 562.33,195.82 562.95,194.89 563.57,193.66 564.18,192.47 564.80,191.33 565.40,192.06 566.00,192.53 566.60,193.05 567.40,194.60 568.20,196.18 569.00,197.66 569.68,195.93 570.37,194.03 571.05,192.32 571.73,190.62 572.42,188.91 573.10,187.09 573.80,188.40 574.50,189.86 575.50,201.92 576.20,202.12 576.90,202.15 577.57,198.08 578.23,194.00 578.90,189.92 579.70,185.62 580.50,181.41 581.30,177.26 582.00,175.93 582.70,174.58 583.40,173.37 584.10,174.59 584.80,175.95 585.50,177.63 586.10,179.40 586.70,181.44 587.45,182.38 588.20,183.31 588.87,180.95 589.53,178.50 590.20,176.14 591.10,167.78 592.00,159.50 592.60,154.76 593.20,150.22 593.80,149.24 594.40,148.13 595.30,150.04 596.20,152.14 596.80,155.09 597.40,158.20 598.60,168.98 599.80,179.78 600.40,184.95 601.00,190.05 601.60,199.08 602.45,205.63 603.30,212.20 604.07,213.28 604.83,214.42 605.60,215.65 606.80,209.54 607.65,197.53 608.50,185.61 609.10,193.22 609.70,200.96 610.40,213.92 611.10,227.07 611.80,229.59 612.50,232.18 613.23,232.56 613.95,233.07 614.68,233.58 615.40,233.92 616.03,234.21 616.66,234.36 617.29,234.20 617.91,234.40 618.54,234.45 619.17,234.57 619.80,234.66 620.46,234.40 621.12,234.35 621.78,234.46 622.44,234.28 623.10,234.09 623.73,234.05 624.36,234.06 624.99,234.26 625.61,234.54 626.24,234.60 626.87,234.63 627.50,234.89" fill="none" stroke="#ff0000" stroke-opacity="0.5" stroke-width="1.1" stroke-linejoin="round"/>
<polyline points="513.60,198.10 515.50,199.00 517.50,196.00 519.90,190.90 521.70,188.60 523.60,185.80 525.40,181.60 526.70,181.60 528.00,184.90 529.60,186.00 530.60,186.70 532.00,189.10 533.40,183.00 535.40,177.30 536.90,178.80 538.00,184.00 539.70,191.40 540.80,192.30 542.70,190.00 544.70,187.50 546.40,189.10 548.20,194.20 550.10,197.00 551.80,198.30 554.10,197.30 556.90,200.10 561.10,197.80 564.80,191.60 566.60,193.10 569.00,197.80 573.10,187.10 574.50,189.90 575.50,202.00 576.90,202.00 578.90,190.00 581.30,177.30 583.40,173.10 585.50,177.30 586.70,181.50 588.20,183.30 590.20,176.10 592.00,159.40 593.20,150.40 594.40,148.30 596.20,152.20 597.40,158.20 598.60,168.90 599.80,179.70 601.00,190.00 601.60,199.20 603.30,212.20 605.60,215.60 606.80,209.60 608.50,185.40 609.70,200.90 611.10,226.90 612.50,232.00 615.40,234.10 619.80,234.60 623.10,234.20 627.50,234.60" fill="none" stroke="#0000ff" stroke-opacity="0.5" stroke-width="1.1" stroke-linejoin="round"/>
<line x1="508.80" y1="144.00" x2="633.40" y2="144.00" stroke="#ddd" stroke-width="1.0"/>
<line x1="508.80" y1="239.50" x2="633.40" y2="239.50" stroke="#ddd" stroke-width="1.0"/>
<line x1="508.80" y1="143.50" x2="508.80" y2="240.00" stroke="#606060" stroke-width="1.0"/>
<line x1="633.40" y1="143.50" x2="633.40" y2="240.00" stroke="#606060" stroke-width="1.0"/>
<line x1="506.60" y1="236.30" x2="508.80" y2="236.30" stroke="#606060" stroke-width="1.0"/>
<text x="504.20" y="238.30" font-size="5.7" text-anchor="end" fill="#111" >−2</text>
<line x1="506.60" y1="216.20" x2="508.80" y2="216.20" stroke="#606060" stroke-width="1.0"/>
<text x="504.20" y="218.20" font-size="5.7" text-anchor="end" fill="#111" >−1</text>
<line x1="506.60" y1="196.10" x2="508.80" y2="196.10" stroke="#606060" stroke-width="1.0"/>
<text x="504.20" y="198.10" font-size="5.7" text-anchor="end" fill="#111" >0</text>
<line x1="506.60" y1="176.00" x2="508.80" y2="176.00" stroke="#606060" stroke-width="1.0"/>
<text x="504.20" y="178.00" font-size="5.7" text-anchor="end" fill="#111" >1</text>
<line x1="506.60" y1="155.90" x2="508.80" y2="155.90" stroke="#606060" stroke-width="1.0"/>
<text x="504.20" y="157.90" font-size="5.7" text-anchor="end" fill="#111" >2</text>
<line x1="514.50" y1="239.80" x2="514.50" y2="241.80" stroke="#606060" stroke-width="1.0"/>
<text x="514.50" y="248.00" font-size="5.7" text-anchor="middle" fill="#111" >0</text>
<line x1="538.55" y1="239.80" x2="538.55" y2="241.80" stroke="#606060" stroke-width="1.0"/>
<text x="538.55" y="248.00" font-size="5.7" text-anchor="middle" fill="#111" >100</text>
<line x1="562.60" y1="239.80" x2="562.60" y2="241.80" stroke="#606060" stroke-width="1.0"/>
<text x="562.60" y="248.00" font-size="5.7" text-anchor="middle" fill="#111" >200</text>
<line x1="586.65" y1="239.80" x2="586.65" y2="241.80" stroke="#606060" stroke-width="1.0"/>
<text x="586.65" y="248.00" font-size="5.7" text-anchor="middle" fill="#111" >300</text>
<line x1="610.70" y1="239.80" x2="610.70" y2="241.80" stroke="#606060" stroke-width="1.0"/>
<text x="610.70" y="248.00" font-size="5.7" text-anchor="middle" fill="#111" >400</text>
<text stroke="#000" stroke-width="0.12" x="569.60" y="258.8" font-size="9.0" font-style="italic" text-anchor="middle">X</text>
<text stroke="#000" stroke-width="0.08" x="574.60" y="260.0" font-size="6.09" font-style="italic" text-anchor="middle">t</text>
<text stroke="#000" stroke-width="0.12" x="570.45" y="140.70" font-size="8.7" text-anchor="middle" fill="#000" textLength="142.11" lengthAdjust="spacingAndGlyphs" >Distance(L2) for SWAP(L2): 0.03</text>
<text stroke="#000" stroke-width="0.12" transform="translate(493.40,191.75) rotate(-90)" font-size="8.7" text-anchor="middle" textLength="45.46" lengthAdjust="spacingAndGlyphs">Amplitude</text>
<rect x="511.20" y="218.4" width="46.6" height="18.4" rx="1.5" fill="#fff" fill-opacity="0.8" stroke="#ddd" stroke-width="0.6"/>
<line x1="512.80" y1="223.30" x2="524.50" y2="223.30" stroke="#ff7a7a" stroke-width="0.9"/>
<line x1="512.80" y1="231.40" x2="524.50" y2="231.40" stroke="#a0a0ff" stroke-width="0.9"/>
<text stroke="#000" stroke-width="0.08" x="528.50" y="225.70" font-size="6.1" text-anchor="start" fill="#111" textLength="26.12" lengthAdjust="spacingAndGlyphs" >Perturbed</text>
<text stroke="#000" stroke-width="0.08" x="528.50" y="234.10" font-size="6.1" text-anchor="start" fill="#111" textLength="24.97" lengthAdjust="spacingAndGlyphs" >Predicted</text>
<polyline points="28.30,348.31 28.54,354.67 28.78,352.26 29.02,351.17 29.26,350.20 29.50,358.01 29.74,368.78 29.98,358.83 30.22,368.80 30.46,356.84 30.71,368.80 30.95,368.80 31.19,283.21 31.43,283.00 31.67,283.00 31.91,283.00 32.15,314.18 32.39,283.00 32.63,344.13 32.87,283.00 33.11,367.83 33.35,283.00 33.59,283.00 33.83,368.80 34.07,283.00 34.31,283.00 34.55,283.00 34.79,283.00 35.03,325.96 35.27,352.87 35.52,368.80 35.76,368.80 36.00,361.19 36.24,368.80 36.48,368.59 36.72,345.30 36.96,339.70 37.20,358.61 37.44,368.80 37.68,362.71 37.92,314.04 38.16,368.80 38.40,364.24 38.64,368.77 38.88,368.80 39.12,360.75 39.36,368.80 39.60,312.63 39.84,368.80 40.08,368.80 40.33,368.80 40.57,367.86 40.81,340.90 41.05,368.80 41.29,368.80 41.53,314.08 41.77,368.80 42.01,368.80 42.25,333.42 42.49,353.41 42.73,368.60 42.97,368.80 43.21,358.30 43.45,315.36 43.69,368.80 43.93,283.66 44.17,283.00 44.41,340.86 44.65,368.80 44.89,368.80 45.14,368.68 45.38,283.00 45.62,283.00 45.86,283.00 46.10,368.80 46.34,368.80 46.58,305.19 46.82,324.87 47.06,339.01 47.30,325.67 47.54,365.80 47.78,368.80 48.02,367.83 48.26,368.80 48.50,368.80 48.74,310.62 48.98,368.80 49.22,368.80 49.46,357.60 49.70,312.68 49.95,368.80 50.19,335.32 50.43,368.80 50.67,368.80 50.91,368.61 51.15,327.98 51.39,351.47 51.63,353.36 51.87,335.69 52.11,332.62 52.35,291.95 52.59,317.67 52.83,315.32 53.07,325.69 53.31,306.91 53.55,306.26 53.79,302.06 54.03,298.50 54.27,307.24 54.51,321.12 54.75,309.26 55.00,318.16 55.24,326.00 55.48,325.85 55.72,298.00 55.96,324.36 56.20,325.40 56.44,314.52 56.68,324.66 56.92,310.49 57.16,329.20 57.40,310.81 57.64,330.65 57.88,334.39 58.12,324.89 58.36,329.11 58.60,341.96 58.84,319.59 59.08,330.53 59.32,320.71 59.56,332.21 59.81,322.24 60.05,317.40 60.29,327.42 60.53,324.82 60.77,310.00 61.01,328.85 61.25,325.48 61.49,316.85 61.73,343.81 61.97,315.31 62.21,336.06 62.45,316.97 62.69,332.77 62.93,320.25 63.17,329.26 63.41,321.68 63.65,330.58 63.89,337.18 64.13,337.56 64.38,325.37 64.62,328.49 64.86,326.62 65.10,310.00 65.34,317.44 65.58,328.42 65.82,344.00 66.06,312.36 66.30,312.00 66.54,342.27 66.78,349.62 67.02,312.00 67.26,340.45 67.50,329.86 67.74,343.92 67.98,362.13 68.22,343.56 68.46,353.13 68.70,350.75 68.94,342.57 69.19,324.29 69.43,312.00 69.67,356.04 69.91,310.82 70.15,310.00 70.39,321.17 70.63,326.78 70.87,362.75 71.11,362.76 71.35,337.74 71.59,328.64 71.83,343.14 72.07,283.62 72.31,283.00 72.55,365.57 72.79,330.21 73.03,310.78 73.27,328.71 73.51,329.33 73.75,328.65 74.00,340.43 74.24,347.60 74.48,323.50 74.72,326.26 74.96,348.00 75.20,348.00 75.44,346.09 75.68,302.33 75.92,348.00 76.16,347.75 76.40,316.70 76.64,315.31 76.88,346.44 77.12,336.92 77.36,348.00 77.60,347.70 77.84,338.94 78.08,330.90 78.32,317.09 78.56,332.45 78.80,305.63 79.05,337.85 79.29,348.00 79.53,329.77 79.77,327.82 80.01,312.62 80.25,329.11 80.49,332.74 80.73,319.10 80.97,305.00 81.21,347.31 81.45,323.46 81.69,326.64 81.93,348.00 82.17,330.52 82.41,326.90 82.65,327.30 82.89,305.00 83.13,338.17 83.37,319.73 83.61,289.57 83.86,289.00 84.10,345.69 84.34,289.00 84.58,305.87 84.82,346.00 85.06,329.55 85.30,330.12 85.54,323.22 85.78,345.09 86.02,320.58 86.26,309.06 86.50,344.61 86.74,335.03 86.98,339.98 87.22,283.10 87.46,334.13 87.70,283.00 87.94,352.24 88.18,285.93 88.42,308.23 88.67,310.22 88.91,327.19 89.15,347.58 89.39,328.93 89.63,353.00 89.87,352.14 90.11,329.77 90.35,348.45 90.59,336.57 90.83,320.60 91.07,290.11 91.31,339.46 91.55,318.04 91.79,338.19 92.03,290.00 92.27,366.86 92.51,335.14 92.75,304.10 92.99,367.50 93.23,328.77 93.48,350.54 93.72,315.25 93.96,367.50 94.20,332.26 94.44,331.83 94.68,367.50 94.92,339.06 95.16,367.50 95.40,357.30 95.64,316.98 95.88,367.50 96.12,367.50 96.36,367.17 96.60,334.67 96.84,367.50 97.08,328.46 97.32,318.86 97.56,347.32 97.80,320.64 98.05,353.75 98.29,335.18 98.53,333.90 98.77,315.00 99.01,293.64 99.25,326.41 99.49,357.00 99.73,356.89 99.97,345.41 100.21,340.97 100.45,325.76 100.69,303.14 100.93,329.02 101.17,356.40 101.41,325.17 101.65,312.42 101.89,303.45 102.13,334.14 102.37,304.61 102.61,338.69 102.85,318.42 103.10,303.00 103.34,333.88 103.58,283.52 103.82,327.50 104.06,322.99 104.30,302.77 104.54,302.21 104.78,298.80 105.02,299.36 105.26,322.88 105.50,335.59 105.74,283.00 105.98,315.27 106.22,328.86 106.46,336.00 106.70,331.11 106.94,326.13 107.18,286.49 107.42,283.47 107.66,324.37 107.91,344.00 108.15,344.00 108.39,283.00 108.63,283.00 108.87,337.26 109.11,343.44 109.35,331.92 109.59,322.01 109.83,344.00 110.07,323.79 110.31,344.00 110.55,341.25 110.79,342.62 111.03,283.83 111.27,355.00 111.51,341.46 111.75,283.00 111.99,310.52 112.23,318.82 112.47,334.02 112.72,307.02 112.96,354.37 113.20,329.63 113.44,319.02 113.68,340.60 113.92,291.20 114.16,337.74 114.40,283.00 114.64,301.79 114.88,355.00 115.12,283.74 115.36,332.00 115.60,312.91 115.84,317.38 116.08,315.46 116.32,304.49 116.56,331.56 116.80,327.25 117.04,332.00 117.28,292.65 117.53,283.00 117.77,318.26 118.01,283.93 118.25,308.74 118.49,322.53 118.73,320.16 118.97,330.74 119.21,296.01 119.45,369.00 119.69,368.67 119.93,332.63 120.17,301.87 120.41,283.00 120.65,341.52 120.89,327.46 121.13,369.00 121.37,283.50 121.61,292.08 121.85,283.00 122.09,308.96 122.34,287.74 122.58,339.73 122.82,330.74 123.06,319.41 123.30,334.44 123.54,321.83 123.78,300.05 124.02,283.66 124.26,369.00 124.50,317.87 124.74,352.61 124.98,283.00 125.22,368.21 125.46,283.00 125.70,306.12 125.94,369.00 126.18,331.04 126.42,283.79 126.66,301.54 126.90,307.72 127.15,290.30 127.39,344.44 127.63,296.87 127.87,319.52 128.11,322.36 128.35,305.81 128.59,283.24 128.83,320.47 129.07,359.28 129.31,283.00 129.55,283.00 129.79,369.00 130.03,333.90 130.27,283.00 130.51,314.74 130.75,368.27 130.99,292.66 131.23,318.74 131.47,337.39 131.72,283.00 131.96,334.52 132.20,283.00 132.44,369.00 132.68,369.00 132.92,283.65 133.16,345.00 133.40,328.37 133.64,315.98 133.88,344.18 134.12,283.00 134.36,329.09 134.60,283.00 134.84,283.57 135.08,283.00 135.32,369.00 135.56,283.00 135.80,331.18 136.04,368.71 136.28,369.00 136.53,302.82 136.77,283.00 137.01,369.00 137.25,369.00 137.49,283.75 137.73,299.05 137.97,288.78 138.21,300.17 138.45,283.00 138.69,289.78 138.93,286.25 139.17,299.41 139.41,283.00 139.65,300.07 139.89,285.71 140.13,296.71 140.37,301.00 140.61,295.94 140.85,288.50 141.09,290.76 141.34,283.00 141.58,283.00 141.82,283.00" fill="none" stroke="#ff0000" stroke-width="0.75" stroke-linejoin="round"/>
<rect x="22.60" y="277.80" width="124.60" height="96.30" fill="none" stroke="#606060" stroke-width="1"/>
<line x1="20.40" y1="283.40" x2="22.60" y2="283.40" stroke="#606060" stroke-width="1.0"/>
<text x="19.00" y="285.40" font-size="5.7" text-anchor="end" fill="#111" >0.1</text>
<line x1="20.40" y1="368.50" x2="22.60" y2="368.50" stroke="#606060" stroke-width="1.0"/>
<text x="19.00" y="370.50" font-size="5.7" text-anchor="end" fill="#111" >−0.1</text>
<line x1="28.30" y1="275.60" x2="28.30" y2="277.80" stroke="#606060" stroke-width="1.0"/>
<text x="28.30" y="273.20" font-size="5.7" text-anchor="middle" fill="#111" >0</text>
<line x1="52.35" y1="275.60" x2="52.35" y2="277.80" stroke="#606060" stroke-width="1.0"/>
<text x="52.35" y="273.20" font-size="5.7" text-anchor="middle" fill="#111" >100</text>
<line x1="76.40" y1="275.60" x2="76.40" y2="277.80" stroke="#606060" stroke-width="1.0"/>
<text x="76.40" y="273.20" font-size="5.7" text-anchor="middle" fill="#111" >200</text>
<line x1="100.45" y1="275.60" x2="100.45" y2="277.80" stroke="#606060" stroke-width="1.0"/>
<text x="100.45" y="273.20" font-size="5.7" text-anchor="middle" fill="#111" >300</text>
<line x1="124.50" y1="275.60" x2="124.50" y2="277.80" stroke="#606060" stroke-width="1.0"/>
<text x="124.50" y="273.20" font-size="5.7" text-anchor="middle" fill="#111" >400</text>
<text stroke="#000" stroke-width="0.12" transform="translate(8.20,325.95) rotate(-90)" font-size="8.7" text-anchor="middle" textLength="72.73" lengthAdjust="spacingAndGlyphs">Noise Amplitude</text>
<polyline points="191.10,310.34 191.34,334.02 191.58,326.62 191.82,332.61 192.06,315.08 192.30,323.93 192.54,310.94 192.78,333.79 193.02,311.83 193.26,346.48 193.50,320.08 193.75,325.44 193.99,315.74 194.23,316.71 194.47,336.11 194.71,329.83 194.95,327.96 195.19,324.52 195.43,325.05 195.67,334.88 195.91,329.52 196.15,331.38 196.39,332.85 196.63,337.00 196.87,331.66 197.11,331.19 197.35,331.15 197.59,333.67 197.83,333.81 198.07,336.21 198.31,330.25 198.56,330.04 198.80,332.61 199.04,328.97 199.28,331.48 199.52,327.60 199.76,333.28 200.00,337.00 200.24,336.16 200.48,332.49 200.72,337.00 200.96,321.93 201.20,325.20 201.44,326.80 201.68,331.33 201.92,326.57 202.16,330.50 202.40,327.69 202.64,330.82 202.88,331.50 203.12,332.83 203.37,333.00 203.61,331.84 203.85,331.88 204.09,331.61 204.33,326.84 204.57,324.92 204.81,328.86 205.05,332.90 205.29,321.63 205.53,326.39 205.77,329.13 206.01,331.64 206.25,329.45 206.49,329.54 206.73,326.01 206.97,327.25 207.21,332.00 207.45,330.93 207.69,331.34 207.94,329.38 208.18,329.89 208.42,325.83 208.66,328.57 208.90,330.67 209.14,333.00 209.38,318.14 209.62,338.00 209.86,337.31 210.10,338.00 210.34,337.82 210.58,338.00 210.82,335.10 211.06,328.70 211.30,336.35 211.54,310.71 211.78,330.08 212.02,337.14 212.26,333.07 212.50,335.77 212.75,340.73 212.99,321.87 213.23,329.25 213.47,323.75 213.71,343.40 213.95,334.29 214.19,345.62 214.43,344.81 214.67,326.18 214.91,334.86 215.15,340.08 215.39,330.59 215.63,334.49 215.87,327.70 216.11,327.80 216.35,327.24 216.59,316.99 216.83,322.94 217.07,326.47 217.31,322.00 217.56,322.00 217.80,327.83 218.04,326.33 218.28,329.61 218.52,330.08 218.76,330.83 219.00,331.37 219.24,329.29 219.48,325.62 219.72,334.22 219.96,331.20 220.20,330.91 220.44,330.34 220.68,331.81 220.92,333.40 221.16,334.44 221.40,328.71 221.64,329.67 221.88,334.30 222.12,327.85 222.37,330.96 222.61,322.85 222.85,338.78 223.09,345.95 223.33,343.91 223.57,312.13 223.81,326.08 224.05,318.23 224.29,325.18 224.53,336.82 224.77,333.52 225.01,337.77 225.25,341.00 225.49,319.17 225.73,321.12 225.97,315.01 226.21,316.49 226.45,328.78 226.69,340.75 226.93,329.37 227.17,328.44 227.42,338.97 227.66,339.95 227.90,326.86 228.14,320.15 228.38,319.34 228.62,327.15 228.86,330.81 229.10,329.66 229.34,333.36 229.58,327.61 229.82,340.13 230.06,321.07 230.30,319.24 230.54,312.00 230.78,313.04 231.02,320.33 231.26,323.19 231.50,325.62 231.74,321.54 231.98,336.41 232.23,338.48 232.47,340.06 232.71,333.83 232.95,334.15 233.19,331.46 233.43,328.77 233.67,334.38 233.91,330.44 234.15,341.00 234.39,333.55 234.63,335.52 234.87,330.26 235.11,312.00 235.35,318.36 235.59,312.00 235.83,314.84 236.07,318.49 236.31,318.00 236.55,320.90 236.79,318.00 237.04,326.43 237.28,320.04 237.52,322.58 237.76,326.65 238.00,328.41 238.24,326.27 238.48,334.00 238.72,326.25 238.96,327.39 239.20,326.83 239.44,329.71 239.68,333.56 239.92,334.00 240.16,325.30 240.40,328.91 240.64,329.96 240.88,324.13 241.12,328.20 241.36,325.28 241.60,320.93 241.85,322.51 242.09,325.17 242.33,327.35 242.57,322.47 242.81,322.51 243.05,324.72 243.29,328.61 243.53,300.99 243.77,300.00 244.01,309.21 244.25,350.11 244.49,344.03 244.73,334.14 244.97,335.61 245.21,315.16 245.45,326.53 245.69,333.30 245.93,335.63 246.17,337.98 246.41,338.60 246.66,335.51 246.90,333.71 247.14,326.54 247.38,324.73 247.62,334.85 247.86,332.81 248.10,335.36 248.34,331.18 248.58,330.77 248.82,325.55 249.06,332.76 249.30,339.73 249.54,339.63 249.78,344.00 250.02,330.79 250.26,333.91 250.50,326.84 250.74,337.13 250.98,338.67 251.22,342.72 251.47,329.10 251.71,335.57 251.95,343.65 252.19,332.16 252.43,325.18 252.67,332.25 252.91,331.88 253.15,330.63 253.39,318.16 253.63,334.78 253.87,331.05 254.11,323.11 254.35,335.03 254.59,341.24 254.83,331.24 255.07,327.15 255.31,335.73 255.55,344.00 255.79,344.00 256.03,344.00 256.28,344.00 256.52,344.00 256.76,333.94 257.00,336.18 257.24,344.00 257.48,337.20 257.72,338.36 257.96,332.47 258.20,344.00 258.44,344.00 258.68,305.04 258.92,319.03 259.16,321.84 259.40,316.44 259.64,331.75 259.88,341.73 260.12,342.00 260.36,337.53 260.60,342.00 260.85,342.00 261.09,282.30 261.33,328.26 261.57,309.71 261.81,344.70 262.05,330.37 262.29,310.76 262.53,300.54 262.77,308.25 263.01,331.14 263.25,335.54 263.49,316.39 263.73,343.37 263.97,355.15 264.21,317.00 264.45,320.58 264.69,308.93 264.93,322.25 265.17,314.25 265.41,327.06 265.65,333.25 265.90,323.25 266.14,324.57 266.38,325.58 266.62,329.17 266.86,328.26 267.10,338.84 267.34,338.71 267.58,334.22 267.82,336.84 268.06,335.58 268.30,329.26 268.54,329.39 268.78,326.66 269.02,338.33 269.26,329.45 269.50,328.84 269.74,324.32 269.98,322.61 270.22,333.55 270.46,332.85 270.71,327.55 270.95,335.81 271.19,327.75 271.43,318.00 271.67,320.75 271.91,313.70 272.15,322.89 272.39,332.91 272.63,330.96 272.87,286.67 273.11,301.10 273.35,346.76 273.59,324.90 273.83,339.59 274.07,309.10 274.31,331.29 274.55,336.70 274.79,336.70 275.03,328.43 275.27,328.20 275.52,318.34 275.76,313.50 276.00,308.60 276.24,317.58 276.48,315.09 276.72,323.89 276.96,324.97 277.20,327.49 277.44,322.64 277.68,321.49 277.92,325.82 278.16,336.70 278.40,326.66 278.64,320.93 278.88,308.60 279.12,336.54 279.36,315.63 279.60,331.39 279.84,321.29 280.08,321.39 280.33,315.04 280.57,322.50 280.81,324.29 281.05,310.80 281.29,314.37 281.53,312.52 281.77,313.98 282.01,308.60 282.25,308.60 282.49,318.99 282.73,323.35 282.97,324.63 283.21,323.41 283.45,317.96 283.69,312.12 283.93,308.60 284.17,302.30 284.41,321.11 284.65,324.65 284.89,335.86 285.14,329.49 285.38,327.90 285.62,319.16 285.86,324.92 286.10,326.17 286.34,322.37 286.58,323.43 286.82,329.20 287.06,321.87 287.30,322.79 287.54,325.92 287.78,329.33 288.02,324.48 288.26,332.82 288.50,329.69 288.74,322.11 288.98,323.35 289.22,323.11 289.46,319.36 289.70,319.00 289.95,322.35 290.19,326.76 290.43,326.79 290.67,329.52 290.91,328.49 291.15,324.31 291.39,322.20 291.63,323.43 291.87,327.07 292.11,330.79 292.35,330.28 292.59,328.33 292.83,328.55 293.07,330.23 293.31,328.28 293.55,325.22 293.79,328.18 294.03,329.61 294.27,330.26 294.51,324.44 294.76,332.15 295.00,328.08 295.24,326.95 295.48,325.43 295.72,328.39 295.96,329.39 296.20,332.24 296.44,330.15 296.68,328.47 296.92,326.40 297.16,328.30 297.40,330.24 297.64,322.92 297.88,324.32 298.12,322.93 298.36,321.29 298.60,319.00 298.84,319.00 299.08,327.21 299.32,325.68 299.57,327.09 299.81,328.10 300.05,328.11 300.29,323.78 300.53,323.46 300.77,327.55 301.01,327.65 301.25,327.13 301.49,323.37 301.73,323.59 301.97,324.09 302.21,325.63 302.45,327.83 302.69,320.78 302.93,322.67 303.17,327.92 303.41,322.95 303.65,324.62 303.89,319.00 304.13,319.00 304.38,319.00 304.62,319.00" fill="none" stroke="#ff0000" stroke-width="0.95" stroke-linejoin="round"/>
<rect x="185.40" y="277.80" width="124.60" height="96.30" fill="none" stroke="#606060" stroke-width="1"/>
<line x1="183.20" y1="282.20" x2="185.40" y2="282.20" stroke="#606060" stroke-width="1.0"/>
<text x="180.60" y="284.20" font-size="5.7" text-anchor="end" fill="#111" >0.1</text>
<line x1="183.20" y1="374.10" x2="185.40" y2="374.10" stroke="#606060" stroke-width="1.0"/>
<text x="180.60" y="376.10" font-size="5.7" text-anchor="end" fill="#111" >−0.1</text>
<line x1="191.10" y1="275.60" x2="191.10" y2="277.80" stroke="#606060" stroke-width="1.0"/>
<text x="191.10" y="273.20" font-size="5.7" text-anchor="middle" fill="#111" >0</text>
<line x1="215.15" y1="275.60" x2="215.15" y2="277.80" stroke="#606060" stroke-width="1.0"/>
<text x="215.15" y="273.20" font-size="5.7" text-anchor="middle" fill="#111" >100</text>
<line x1="239.20" y1="275.60" x2="239.20" y2="277.80" stroke="#606060" stroke-width="1.0"/>
<text x="239.20" y="273.20" font-size="5.7" text-anchor="middle" fill="#111" >200</text>
<line x1="263.25" y1="275.60" x2="263.25" y2="277.80" stroke="#606060" stroke-width="1.0"/>
<text x="263.25" y="273.20" font-size="5.7" text-anchor="middle" fill="#111" >300</text>
<line x1="287.30" y1="275.60" x2="287.30" y2="277.80" stroke="#606060" stroke-width="1.0"/>
<text x="287.30" y="273.20" font-size="5.7" text-anchor="middle" fill="#111" >400</text>
<text stroke="#000" stroke-width="0.12" transform="translate(171.00,325.95) rotate(-90)" font-size="8.7" text-anchor="middle" textLength="72.73" lengthAdjust="spacingAndGlyphs">Noise Amplitude</text>
<polyline points="352.40,327.76 352.64,328.31 352.88,324.04 353.12,327.18 353.36,330.76 353.60,327.21 353.84,328.02 354.08,322.75 354.32,327.53 354.56,325.97 354.80,326.59 355.05,327.39 355.29,326.55 355.53,325.82 355.77,328.76 356.01,320.77 356.25,324.06 356.49,322.69 356.73,324.80 356.97,324.11 357.21,323.88 357.45,327.45 357.69,321.91 357.93,324.96 358.17,329.72 358.41,324.85 358.65,324.67 358.89,328.05 359.13,326.94 359.37,324.11 359.61,326.44 359.86,324.67 360.10,327.16 360.34,323.91 360.58,326.89 360.82,326.60 361.06,326.91 361.30,325.79 361.54,323.44 361.78,328.76 362.02,324.82 362.26,320.50 362.50,323.05 362.74,322.21 362.98,328.13 363.22,327.62 363.46,323.90 363.70,327.09 363.94,327.69 364.18,325.01 364.42,327.07 364.67,325.33 364.91,325.03 365.15,325.48 365.39,325.67 365.63,325.55 365.87,327.20 366.11,328.43 366.35,323.98 366.59,324.50 366.83,329.44 367.07,325.34 367.31,324.40 367.55,329.16 367.79,327.07 368.03,324.81 368.27,324.05 368.51,328.73 368.75,324.92 368.99,323.54 369.23,323.88 369.48,326.88 369.72,327.21 369.96,327.10 370.20,324.08 370.44,323.17 370.68,325.11 370.92,326.10 371.16,324.50 371.40,326.51 371.64,324.33 371.88,324.50 372.12,326.72 372.36,326.40 372.60,326.42 372.84,326.52 373.08,324.14 373.32,326.29 373.56,325.25 373.80,328.61 374.04,327.16 374.29,328.15 374.53,325.42 374.77,325.82 375.01,315.31 375.25,326.49 375.49,324.59 375.73,324.87 375.97,324.67 376.21,324.07 376.45,330.45 376.69,329.10 376.93,327.47 377.17,328.84 377.41,327.24 377.65,329.11 377.89,325.15 378.13,326.02 378.37,328.54 378.61,326.38 378.85,323.05 379.10,326.79 379.34,328.99 379.58,327.38 379.82,324.93 380.06,325.80 380.30,328.13 380.54,327.96 380.78,329.03 381.02,322.20 381.26,324.02 381.50,323.75 381.74,329.14 381.98,330.89 382.22,314.35 382.46,336.21 382.70,330.04 382.94,328.30 383.18,329.12 383.42,325.81 383.66,325.33 383.91,325.25 384.15,316.42 384.39,326.58 384.63,334.74 384.87,324.60 385.11,326.15 385.35,332.88 385.59,327.04 385.83,328.05 386.07,327.95 386.31,327.64 386.55,329.22 386.79,325.13 387.03,326.20 387.27,327.98 387.51,325.20 387.75,328.85 387.99,323.81 388.23,326.12 388.47,327.03 388.72,323.85 388.96,329.57 389.20,324.99 389.44,323.24 389.68,323.91 389.92,320.38 390.16,324.65 390.40,327.34 390.64,324.55 390.88,327.61 391.12,326.43 391.36,326.20 391.60,326.11 391.84,329.22 392.08,326.55 392.32,327.24 392.56,326.79 392.80,325.82 393.04,324.52 393.28,323.99 393.53,329.84 393.77,326.22 394.01,320.24 394.25,322.29 394.49,326.11 394.73,324.05 394.97,323.21 395.21,325.70 395.45,324.30 395.69,324.21 395.93,325.75 396.17,330.99 396.41,323.72 396.65,325.85 396.89,328.62 397.13,325.01 397.37,326.83 397.61,324.70 397.85,323.15 398.09,326.98 398.34,326.64 398.58,325.72 398.82,326.67 399.06,325.17 399.30,327.85 399.54,327.44 399.78,325.30 400.02,326.48 400.26,325.39 400.50,323.94 400.74,326.27 400.98,324.95 401.22,324.59 401.46,325.99 401.70,325.89 401.94,326.48 402.18,327.49 402.42,326.69 402.66,325.47 402.90,327.66 403.15,323.34 403.39,322.91 403.63,327.00 403.87,323.26 404.11,324.23 404.35,326.94 404.59,323.54 404.83,327.94 405.07,324.03 405.31,328.11 405.55,329.61 405.79,325.58 406.03,325.80 406.27,326.94 406.51,323.66 406.75,325.78 406.99,329.11 407.23,326.67 407.47,327.42 407.71,324.27 407.96,323.82 408.20,327.14 408.44,324.47 408.68,323.03 408.92,325.01 409.16,323.67 409.40,327.35 409.64,327.25 409.88,326.96 410.12,326.76 410.36,329.33 410.60,327.33 410.84,329.37 411.08,327.34 411.32,330.25 411.56,326.15 411.80,323.24 412.04,328.49 412.28,325.94 412.52,327.90 412.77,327.97 413.01,324.03 413.25,327.98 413.49,326.79 413.73,327.25 413.97,324.87 414.21,324.13 414.45,325.71 414.69,324.38 414.93,325.15 415.17,328.65 415.41,324.84 415.65,323.99 415.89,325.73 416.13,325.62 416.37,330.08 416.61,327.15 416.85,323.41 417.09,321.95 417.33,327.73 417.58,325.75 417.82,325.66 418.06,325.06 418.30,325.41 418.54,327.01 418.78,323.75 419.02,325.78 419.26,327.65 419.50,327.50 419.74,325.46 419.98,327.35 420.22,320.92 420.46,325.97 420.70,330.98 420.94,329.38 421.18,327.38 421.42,325.77 421.66,327.74 421.90,325.02 422.14,325.73 422.39,326.89 422.63,325.14 422.87,325.76 423.11,326.56 423.35,326.66 423.59,328.93 423.83,325.88 424.07,323.89 424.31,326.73 424.55,325.21 424.79,328.70 425.03,325.20 425.27,326.21 425.51,323.62 425.75,321.83 425.99,326.62 426.23,327.23 426.47,326.84 426.71,327.09 426.95,323.33 427.20,321.52 427.44,322.85 427.68,325.81 427.92,325.61 428.16,326.26 428.40,329.82 428.64,325.95 428.88,327.00 429.12,322.53 429.36,324.97 429.60,328.78 429.84,326.76 430.08,328.15 430.32,328.33 430.56,325.52 430.80,325.07 431.04,324.13 431.28,329.88 431.52,326.78 431.76,326.99 432.01,323.47 432.25,326.27 432.49,327.60 432.73,328.54 432.97,326.92 433.21,328.32 433.45,326.48 433.69,330.65 433.93,331.45 434.17,326.70 434.41,323.16 434.65,324.76 434.89,328.36 435.13,327.62 435.37,324.38 435.61,325.99 435.85,324.79 436.09,325.44 436.33,326.01 436.57,325.44 436.82,326.83 437.06,326.13 437.30,327.00 437.54,324.35 437.78,326.48 438.02,326.05 438.26,325.41 438.50,326.72 438.74,325.66 438.98,325.06 439.22,326.70 439.46,327.67 439.70,330.10 439.94,326.13 440.18,327.08 440.42,321.47 440.66,327.17 440.90,329.13 441.14,329.12 441.38,328.12 441.63,329.41 441.87,325.50 442.11,328.65 442.35,321.64 442.59,328.16 442.83,322.76 443.07,327.95 443.31,322.77 443.55,328.83 443.79,325.54 444.03,330.00 444.27,325.44 444.51,326.36 444.75,327.65 444.99,321.40 445.23,326.42 445.47,323.20 445.71,328.62 445.95,330.04 446.19,324.73 446.44,323.79 446.68,322.78 446.92,330.63 447.16,322.86 447.40,327.26 447.64,326.31 447.88,324.28 448.12,324.71 448.36,323.63 448.60,329.57 448.84,327.69 449.08,327.12 449.32,324.08 449.56,322.82 449.80,330.16 450.04,327.26 450.28,328.21 450.52,325.65 450.76,322.61 451.00,323.22 451.25,328.72 451.49,325.48 451.73,326.84 451.97,323.68 452.21,328.60 452.45,330.93 452.69,326.19 452.93,328.25 453.17,327.91 453.41,324.19 453.65,328.76 453.89,324.18 454.13,321.00 454.37,328.10 454.61,324.76 454.85,324.63 455.09,328.36 455.33,324.78 455.57,330.11 455.81,327.66 456.06,322.73 456.30,327.38 456.54,326.20 456.78,325.61 457.02,330.64 457.26,324.85 457.50,325.60 457.74,325.88 457.98,325.07 458.22,324.81 458.46,323.99 458.70,325.57 458.94,327.32 459.18,323.09 459.42,325.36 459.66,322.94 459.90,322.54 460.14,324.33 460.38,327.89 460.62,328.24 460.87,326.10 461.11,324.86 461.35,325.56 461.59,328.27 461.83,326.93 462.07,327.95 462.31,325.18 462.55,328.33 462.79,324.49 463.03,327.54 463.27,327.57 463.51,330.81 463.75,323.71 463.99,323.30 464.23,326.31 464.47,323.72 464.71,326.23 464.95,324.43 465.19,324.42 465.43,325.87 465.68,326.29 465.92,325.57" fill="none" stroke="#ff0000" stroke-width="0.9" stroke-linejoin="round"/>
<rect x="346.70" y="277.80" width="124.60" height="96.30" fill="none" stroke="#606060" stroke-width="1"/>
<line x1="344.50" y1="277.80" x2="346.70" y2="277.80" stroke="#606060" stroke-width="1.0"/>
<text x="342.60" y="279.80" font-size="5.7" text-anchor="end" fill="#111" >0.1</text>
<line x1="344.50" y1="374.10" x2="346.70" y2="374.10" stroke="#606060" stroke-width="1.0"/>
<text x="342.60" y="376.10" font-size="5.7" text-anchor="end" fill="#111" >−0.1</text>
<line x1="352.40" y1="275.60" x2="352.40" y2="277.80" stroke="#606060" stroke-width="1.0"/>
<text x="352.40" y="273.20" font-size="5.7" text-anchor="middle" fill="#111" >0</text>
<line x1="376.45" y1="275.60" x2="376.45" y2="277.80" stroke="#606060" stroke-width="1.0"/>
<text x="376.45" y="273.20" font-size="5.7" text-anchor="middle" fill="#111" >100</text>
<line x1="400.50" y1="275.60" x2="400.50" y2="277.80" stroke="#606060" stroke-width="1.0"/>
<text x="400.50" y="273.20" font-size="5.7" text-anchor="middle" fill="#111" >200</text>
<line x1="424.55" y1="275.60" x2="424.55" y2="277.80" stroke="#606060" stroke-width="1.0"/>
<text x="424.55" y="273.20" font-size="5.7" text-anchor="middle" fill="#111" >300</text>
<line x1="448.60" y1="275.60" x2="448.60" y2="277.80" stroke="#606060" stroke-width="1.0"/>
<text x="448.60" y="273.20" font-size="5.7" text-anchor="middle" fill="#111" >400</text>
<text stroke="#000" stroke-width="0.12" transform="translate(332.30,325.95) rotate(-90)" font-size="8.7" text-anchor="middle" textLength="72.73" lengthAdjust="spacingAndGlyphs">Noise Amplitude</text>
<polyline points="514.50,325.97 514.74,326.17 514.98,326.15 515.22,326.20 515.46,326.29 515.70,326.30 515.94,326.26 516.18,326.09 516.42,325.96 516.66,326.07 516.90,326.13 517.15,326.18 517.39,326.02 517.63,325.85 517.87,325.81 518.11,325.76 518.35,325.84 518.59,325.81 518.83,326.00 519.07,325.97 519.31,325.95 519.55,326.05 519.79,326.09 520.03,326.01 520.27,326.10 520.51,326.27 520.75,326.13 520.99,326.10 521.23,326.01 521.47,325.86 521.72,325.96 521.96,326.05 522.20,326.14 522.44,326.17 522.68,325.98 522.92,326.00 523.16,325.96 523.40,325.89 523.64,325.83 523.88,325.95 524.12,325.96 524.36,326.16 524.60,326.19 524.84,326.00 525.08,326.10 525.32,326.21 525.56,326.19 525.80,326.07 526.04,326.23 526.28,326.09 526.52,326.08 526.77,325.92 527.01,325.85 527.25,325.75 527.49,325.91 527.73,326.05 527.97,326.03 528.21,325.92 528.45,325.95 528.69,326.02 528.93,325.90 529.17,325.84 529.41,325.88 529.65,325.99 529.89,326.02 530.13,326.07 530.37,325.97 530.61,325.78 530.85,325.87 531.09,325.83 531.34,325.88 531.58,325.89 531.82,325.97 532.06,325.93 532.30,326.09 532.54,326.10 532.78,326.14 533.02,326.19 533.26,326.26 533.50,326.27 533.74,326.08 533.98,326.03 534.22,326.21 534.46,326.23 534.70,326.25 534.94,326.26 535.18,326.17 535.42,326.10 535.66,326.04 535.90,326.16 536.14,326.18 536.39,326.32 536.63,326.32 536.87,326.44 537.11,326.41 537.35,326.25 537.59,326.37 537.83,326.35 538.07,326.40 538.31,326.36 538.55,326.28 538.79,326.26 539.03,326.13 539.27,326.02 539.51,325.96 539.75,325.94 539.99,325.85 540.23,325.89 540.47,325.96 540.71,326.17 540.96,326.32 541.20,326.27 541.44,326.31 541.68,326.25 541.92,326.26 542.16,326.22 542.40,326.15 542.64,326.15 542.88,326.01 543.12,326.06 543.36,326.05 543.60,325.96 543.84,325.96 544.08,326.03 544.32,325.99 544.56,326.05 544.80,326.11 545.04,326.25 545.28,326.12 545.52,326.11 545.76,326.15 546.01,326.27 546.25,326.26 546.49,326.30 546.73,326.13 546.97,326.07 547.21,326.22 547.45,326.17 547.69,326.35 547.93,326.24 548.17,326.18 548.41,326.03 548.65,326.10 548.89,326.12 549.13,326.30 549.37,326.27 549.61,326.21 549.85,326.07 550.09,326.07 550.33,326.16 550.58,326.21 550.82,326.30 551.06,326.34 551.30,326.28 551.54,326.30 551.78,326.28 552.02,326.12 552.26,326.27 552.50,326.27 552.74,326.14 552.98,326.17 553.22,326.18 553.46,326.25 553.70,326.35 553.94,326.03 554.18,326.09 554.42,326.23 554.66,326.12 554.90,325.95 555.14,326.01 555.38,326.05 555.63,326.09 555.87,326.00 556.11,325.98 556.35,326.02 556.59,326.10 556.83,326.30 557.07,326.28 557.31,326.19 557.55,325.96 557.79,326.09 558.03,326.08 558.27,326.07 558.51,325.99 558.75,326.08 558.99,325.92 559.23,325.97 559.47,326.00 559.71,326.05 559.95,326.18 560.20,326.15 560.44,326.15 560.68,326.22 560.92,326.06 561.16,326.04 561.40,326.06 561.64,326.15 561.88,326.07 562.12,326.15 562.36,326.17 562.60,326.02 562.84,325.91 563.08,325.82 563.32,325.89 563.56,325.95 563.80,326.04 564.04,326.13 564.28,326.07 564.52,326.17 564.76,326.23 565.00,326.25 565.25,326.26 565.49,326.11 565.73,326.14 565.97,326.04 566.21,325.95 566.45,325.95 566.69,325.99 566.93,326.01 567.17,326.00 567.41,325.93 567.65,325.98 567.89,325.94 568.13,325.84 568.37,325.90 568.61,326.07 568.85,326.04 569.09,325.96 569.33,326.11 569.57,326.26 569.82,326.20 570.06,326.16 570.30,326.16 570.54,326.40 570.78,326.32 571.02,326.31 571.26,326.21 571.50,325.88 571.74,325.60 571.98,325.30 572.22,325.14 572.46,324.94 572.70,324.94 572.94,324.81 573.18,324.83 573.42,324.93 573.66,325.10 573.90,325.49 574.14,325.64 574.38,325.87 574.62,325.98 574.87,325.83 575.11,325.72 575.35,325.41 575.59,325.07 575.83,324.70 576.07,324.36 576.31,324.10 576.55,324.22 576.79,324.32 577.03,324.62 577.27,325.03 577.51,325.28 577.75,325.49 577.99,325.65 578.23,325.71 578.47,325.79 578.71,325.55 578.95,325.65 579.19,325.56 579.43,325.32 579.68,325.22 579.92,325.05 580.16,324.04 580.40,325.13 580.64,324.73 580.88,325.02 581.12,324.77 581.36,323.62 581.60,325.13 581.84,324.48 582.08,325.14 582.32,324.91 582.56,325.36 582.80,323.27 583.04,324.70 583.28,325.54 583.52,324.48 583.76,323.25 584.00,324.73 584.25,325.11 584.49,323.75 584.73,324.69 584.97,325.43 585.21,323.07 585.45,323.13 585.69,324.03 585.93,324.72 586.17,323.28 586.41,325.51 586.65,326.82 586.89,325.28 587.13,325.58 587.37,325.46 587.61,325.47 587.85,324.91 588.09,324.56 588.33,322.83 588.57,325.25 588.81,325.12 589.05,325.10 589.30,325.17 589.54,325.20 589.78,325.17 590.02,325.29 590.26,325.10 590.50,325.01 590.74,325.14 590.98,325.14 591.22,324.93 591.46,324.97 591.70,324.87 591.94,325.03 592.18,325.13 592.42,325.05 592.66,325.16 592.90,325.05 593.14,325.12 593.38,325.15 593.62,325.11 593.87,324.95 594.11,324.93 594.35,324.73 594.59,324.73 594.83,324.60 595.07,324.77 595.31,324.70 595.55,324.50 595.79,324.61 596.03,324.66 596.27,324.62 596.51,324.81 596.75,324.83 596.99,324.78 597.23,324.67 597.47,324.37 597.71,324.45 597.95,324.56 598.19,324.52 598.43,324.42 598.67,324.49 598.92,324.40 599.16,324.50 599.40,324.66 599.64,324.86 599.88,324.91 600.12,324.96 600.36,325.04 600.60,325.18 600.84,325.13 601.08,325.01 601.32,324.95 601.56,324.87 601.80,324.83 602.04,324.88 602.28,324.96 602.52,325.01 602.76,325.04 603.00,325.03 603.24,325.10 603.49,325.20 603.73,325.28 603.97,325.41 604.21,325.35 604.45,325.32 604.69,325.48 604.93,325.47 605.17,325.50 605.41,325.45 605.65,325.54 605.89,325.49 606.13,325.39 606.37,325.37 606.61,325.27 606.85,325.22 607.09,324.98 607.33,324.71 607.57,324.41 607.81,324.21 608.05,324.07 608.29,324.27 608.54,324.38 608.78,324.70 609.02,325.01 609.26,325.40 609.50,325.64 609.74,325.83 609.98,325.89 610.22,325.88 610.46,325.82 610.70,325.85 610.94,325.85 611.18,325.93 611.42,325.99 611.66,326.10 611.90,326.09 612.14,326.03 612.38,325.95 612.62,325.99 612.86,326.04 613.11,326.23 613.35,326.22 613.59,326.36 613.83,326.47 614.07,326.30 614.31,326.37 614.55,326.42 614.79,326.48 615.03,326.40 615.27,326.43 615.51,326.32 615.75,326.27 615.99,326.24 616.23,326.37 616.47,326.30 616.71,326.34 616.95,326.30 617.19,326.20 617.43,326.20 617.67,326.24 617.91,326.15 618.16,326.19 618.40,326.11 618.64,326.03 618.88,326.06 619.12,326.05 619.36,325.97 619.60,325.85 619.84,325.90 620.08,325.96 620.32,325.95 620.56,326.00 620.80,325.88 621.04,325.96 621.28,326.02 621.52,326.06 621.76,326.02 622.00,326.04 622.24,326.06 622.48,326.17 622.73,326.18 622.97,326.19 623.21,326.10 623.45,326.18 623.69,326.27 623.93,326.19 624.17,326.23 624.41,326.23 624.65,326.20 624.89,326.07 625.13,326.23 625.37,326.04 625.61,326.08 625.85,326.05 626.09,326.16 626.33,326.11 626.57,326.11 626.81,326.16 627.05,326.19 627.29,326.13 627.53,326.18 627.78,326.20 628.02,326.27" fill="none" stroke="#ff0000" stroke-width="1.1" stroke-linejoin="round"/>
<rect x="508.80" y="277.80" width="124.60" height="96.30" fill="none" stroke="#606060" stroke-width="1"/>
<line x1="506.60" y1="277.80" x2="508.80" y2="277.80" stroke="#606060" stroke-width="1.0"/>
<text x="504.20" y="279.80" font-size="5.7" text-anchor="end" fill="#111" >0.1</text>
<line x1="506.60" y1="374.10" x2="508.80" y2="374.10" stroke="#606060" stroke-width="1.0"/>
<text x="504.20" y="376.10" font-size="5.7" text-anchor="end" fill="#111" >−0.1</text>
<line x1="514.50" y1="275.60" x2="514.50" y2="277.80" stroke="#606060" stroke-width="1.0"/>
<text x="514.50" y="273.20" font-size="5.7" text-anchor="middle" fill="#111" >0</text>
<line x1="538.55" y1="275.60" x2="538.55" y2="277.80" stroke="#606060" stroke-width="1.0"/>
<text x="538.55" y="273.20" font-size="5.7" text-anchor="middle" fill="#111" >100</text>
<line x1="562.60" y1="275.60" x2="562.60" y2="277.80" stroke="#606060" stroke-width="1.0"/>
<text x="562.60" y="273.20" font-size="5.7" text-anchor="middle" fill="#111" >200</text>
<line x1="586.65" y1="275.60" x2="586.65" y2="277.80" stroke="#606060" stroke-width="1.0"/>
<text x="586.65" y="273.20" font-size="5.7" text-anchor="middle" fill="#111" >300</text>
<line x1="610.70" y1="275.60" x2="610.70" y2="277.80" stroke="#606060" stroke-width="1.0"/>
<text x="610.70" y="273.20" font-size="5.7" text-anchor="middle" fill="#111" >400</text>
<text stroke="#000" stroke-width="0.12" transform="translate(494.40,325.95) rotate(-90)" font-size="8.7" text-anchor="middle" textLength="72.73" lengthAdjust="spacingAndGlyphs">Noise Amplitude</text>
</svg></body></html>
